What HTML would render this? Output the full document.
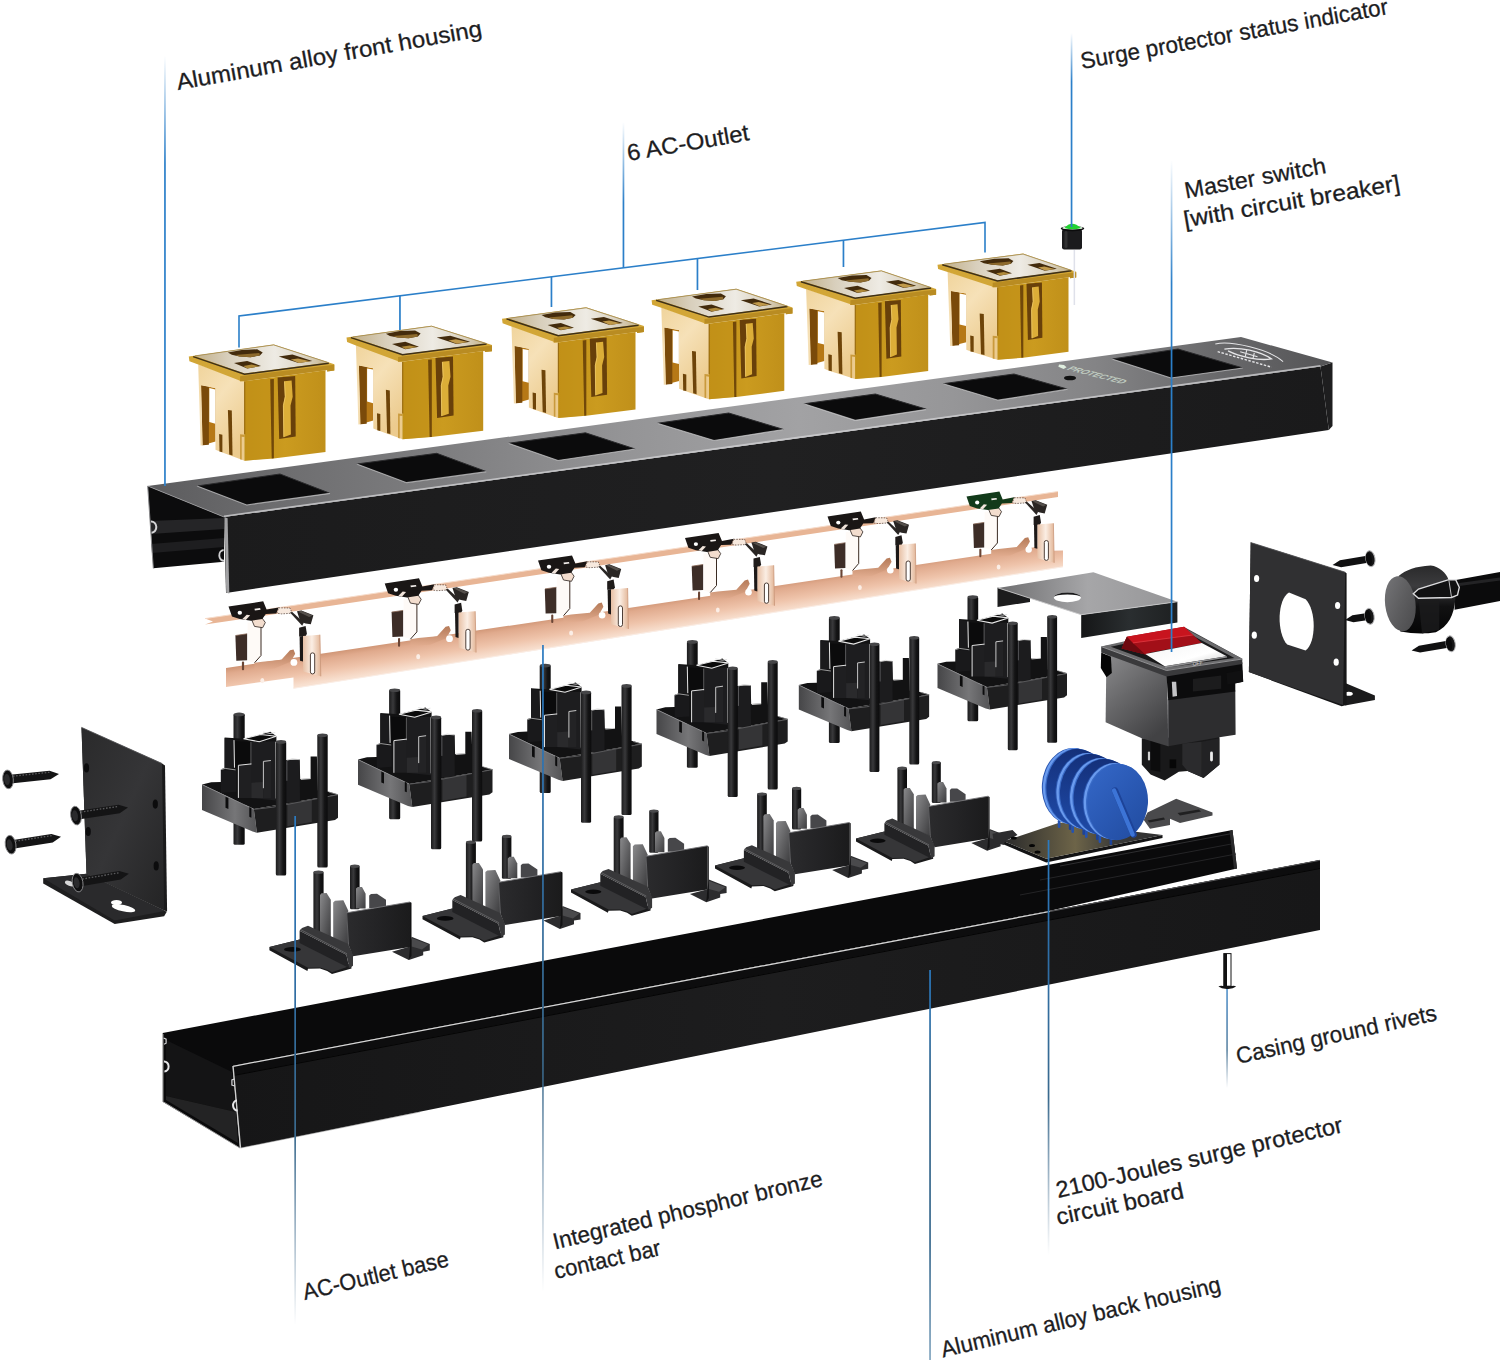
<!DOCTYPE html>
<html><head><meta charset="utf-8"><title>Power strip exploded view</title>
<style>html,body{margin:0;padding:0;background:#fff}svg{display:block}
text{font-family:"Liberation Sans",sans-serif;fill:#1d1d1f}</style></head>
<body><svg width="1500" height="1360" viewBox="0 0 1500 1360">
<defs>
<linearGradient id="gTop" gradientUnits="userSpaceOnUse" x1="150" y1="0" x2="1330" y2="0">
<stop offset="0" stop-color="#5c5c5e"/><stop offset="0.1" stop-color="#6c6c6e"/><stop offset="0.25" stop-color="#7e7e80"/><stop offset="0.4" stop-color="#949496"/><stop offset="0.55" stop-color="#a2a2a4"/><stop offset="0.68" stop-color="#969698"/><stop offset="0.8" stop-color="#848486"/><stop offset="0.9" stop-color="#6a6a6c"/><stop offset="1" stop-color="#555557"/>
</linearGradient>
<linearGradient id="gFront" gradientUnits="userSpaceOnUse" x1="220" y1="0" x2="1330" y2="0">
<stop offset="0" stop-color="#1b1b1c"/><stop offset="0.5" stop-color="#202021"/><stop offset="1" stop-color="#1a1a1b"/>
</linearGradient>
<linearGradient id="gBackFront" gradientUnits="userSpaceOnUse" x1="230" y1="0" x2="1320" y2="0">
<stop offset="0" stop-color="#161617"/><stop offset="0.5" stop-color="#1d1d1e"/><stop offset="1" stop-color="#171718"/>
</linearGradient>
<linearGradient id="gPlate" x1="0" y1="0" x2="1" y2="0">
<stop offset="0" stop-color="#c2b08a"/><stop offset="0.25" stop-color="#d8cfbc"/><stop offset="0.6" stop-color="#eeebe4"/><stop offset="0.85" stop-color="#d9d0bc"/><stop offset="1" stop-color="#c4b288"/>
</linearGradient>
<linearGradient id="gCream" x1="0" y1="0" x2="0.6" y2="1">
<stop offset="0" stop-color="#f0d49c"/><stop offset="0.45" stop-color="#f6e1b8"/><stop offset="1" stop-color="#eccb8e"/>
</linearGradient>
<linearGradient id="gGold" x1="0" y1="0" x2="1" y2="0">
<stop offset="0" stop-color="#bf8f18"/><stop offset="0.5" stop-color="#cb9b1f"/><stop offset="1" stop-color="#c0901a"/>
</linearGradient>
<linearGradient id="gCopper" gradientUnits="userSpaceOnUse" x1="226" y1="666" x2="230.6" y2="696">
<stop offset="0" stop-color="#c98d6c"/><stop offset="0.25" stop-color="#e0aa8d"/><stop offset="0.65" stop-color="#efc4ab"/><stop offset="1" stop-color="#f8e0d0"/>
</linearGradient>
<linearGradient id="gArm" x1="0" y1="0" x2="0" y2="1">
<stop offset="0" stop-color="#b57a58"/><stop offset="1" stop-color="#e2ad90"/>
</linearGradient>
<linearGradient id="gTab" x1="0" y1="0" x2="1" y2="0">
<stop offset="0" stop-color="#e7c0a5"/><stop offset="0.5" stop-color="#fbeee4"/><stop offset="1" stop-color="#e2b596"/>
</linearGradient>
<linearGradient id="gPin" x1="0" y1="0" x2="1" y2="0">
<stop offset="0" stop-color="#1c1c1d"/><stop offset="0.35" stop-color="#39393b"/><stop offset="0.7" stop-color="#141415"/><stop offset="1" stop-color="#0c0c0d"/>
</linearGradient>
<linearGradient id="gDisc" x1="0" y1="0" x2="1" y2="1">
<stop offset="0" stop-color="#3568c8"/><stop offset="0.5" stop-color="#2a59b4"/><stop offset="1" stop-color="#214b9e"/>
</linearGradient>
<linearGradient id="gDiscBack" x1="0" y1="0" x2="0" y2="1">
<stop offset="0" stop-color="#14307a"/><stop offset="0.6" stop-color="#1a3f94"/><stop offset="1" stop-color="#1f4aa6"/>
</linearGradient>
<linearGradient id="gBracket" x1="0" y1="0" x2="1" y2="0">
<stop offset="0" stop-color="#6e6e70"/><stop offset="0.5" stop-color="#a6a6a8"/><stop offset="1" stop-color="#969698"/>
</linearGradient>
<linearGradient id="gRocker" x1="0" y1="0" x2="1" y2="1">
<stop offset="0" stop-color="#f4f4f4"/><stop offset="0.6" stop-color="#ffffff"/><stop offset="1" stop-color="#c8c8c8"/>
</linearGradient>
<linearGradient id="gBoard" x1="0" y1="0" x2="1" y2="0">
<stop offset="0" stop-color="#2a2a2b"/><stop offset="0.45" stop-color="#6d6448"/><stop offset="0.7" stop-color="#3a3a38"/><stop offset="1" stop-color="#303031"/>
</linearGradient>
<linearGradient id="gEndPlate" x1="0" y1="0" x2="1" y2="1">
<stop offset="0" stop-color="#2a2a2b"/><stop offset="0.5" stop-color="#353537"/><stop offset="1" stop-color="#242425"/>
</linearGradient>
<linearGradient id="gLineUp" x1="0" y1="0" x2="0" y2="1">
<stop offset="0" stop-color="#2b7fc9" stop-opacity="0"/><stop offset="0.25" stop-color="#2b7fc9" stop-opacity="1"/><stop offset="1" stop-color="#2b7fc9"/>
</linearGradient>
<linearGradient id="gLineDown" x1="0" y1="0" x2="0" y2="1">
<stop offset="0" stop-color="#2b7ac0"/><stop offset="0.3" stop-color="#2f6ea6" stop-opacity="1"/><stop offset="0.62" stop-color="#3a6a8e" stop-opacity="1"/><stop offset="1" stop-color="#4a7090" stop-opacity="0"/>
</linearGradient>
<linearGradient id="gGland" x1="0" y1="0" x2="0" y2="1">
<stop offset="0" stop-color="#2a2a2b"/><stop offset="0.3" stop-color="#3c3c3e"/><stop offset="0.6" stop-color="#111112"/><stop offset="1" stop-color="#050505"/>
</linearGradient>
<linearGradient id="gSwL" x1="0" y1="0" x2="0.6" y2="1">
<stop offset="0" stop-color="#8c8c8e"/><stop offset="0.5" stop-color="#666668"/><stop offset="1" stop-color="#424244"/>
</linearGradient>
<linearGradient id="gTrayL" x1="0" y1="0" x2="1" y2="0">
<stop offset="0" stop-color="#464648"/><stop offset="0.6" stop-color="#767678"/><stop offset="1" stop-color="#545456"/>
</linearGradient>
<linearGradient id="gTabG" x1="0" y1="0" x2="1" y2="1">
<stop offset="0" stop-color="#8a8a8c"/><stop offset="0.5" stop-color="#626264"/><stop offset="1" stop-color="#3c3c3e"/>
</linearGradient>
<linearGradient id="gLBWall" x1="0" y1="0" x2="1" y2="0">
<stop offset="0" stop-color="#2b2b2d"/><stop offset="0.5" stop-color="#232325"/><stop offset="1" stop-color="#1b1b1c"/>
</linearGradient>
<linearGradient id="gFace" x1="0" y1="0" x2="1" y2="1">
<stop offset="0" stop-color="#77777a"/><stop offset="0.5" stop-color="#5e5e60"/><stop offset="1" stop-color="#48484a"/>
</linearGradient>
<linearGradient id="gLineUp2" x1="0" y1="0" x2="0" y2="1">
<stop offset="0" stop-color="#2b7fc9" stop-opacity="0"/><stop offset="0.55" stop-color="#2b7fc9" stop-opacity="1"/><stop offset="1" stop-color="#2b7fc9"/>
</linearGradient>
<linearGradient id="gBrFront" x1="0" y1="0" x2="1" y2="0">
<stop offset="0" stop-color="#151617"/><stop offset="0.5" stop-color="#2a2e30"/><stop offset="1" stop-color="#1e2021"/>
</linearGradient>
<linearGradient id="gLineDown3" x1="0" y1="0" x2="0" y2="1">
<stop offset="0" stop-color="#2b7ac0"/><stop offset="0.3" stop-color="#34658a"/><stop offset="0.7" stop-color="#3a6a8e"/><stop offset="1" stop-color="#5a88aa" stop-opacity="0.75"/>
</linearGradient>
</defs>

<rect width="1500" height="1360" fill="#ffffff"/>
<g id="back-housing">
<polygon points="162.7,1033.0 1232.5,830.0 1237.0,868.5 1050.0,910.8 232.7,1066.0 240.0,1148.0 162.7,1101.7" fill="#0a0a0b" />
<polygon points="166.0,1040.0 232.0,1072.0 236.0,1112.0 166.0,1096.0" fill="#141415" />
<polygon points="166.0,1096.0 236.0,1112.0 238.0,1143.0 166.0,1100.0" fill="#232324" />
<polyline points="1060.0,866.0 1232.0,833.5" fill="none" stroke="#2e2e30" stroke-width="1" />
<polyline points="1040.0,880.0 1234.0,843.5" fill="none" stroke="#242426" stroke-width="1" />
<polyline points="1020.0,895.0 1236.0,854.0" fill="none" stroke="#242426" stroke-width="1" />
<polygon points="1232.5,830.0 1237.0,868.5 1234.0,869.0 1229.5,831.0" fill="#2a2a2c" />
<polygon points="232.7,1066.0 1320.0,860.0 1320.0,930.0 240.0,1148.0" fill="url(#gBackFront)" />
<polygon points="232.7,1066.0 1320.0,860.0 1320.0,868.0 233.6,1075.0" fill="#0d0d0e" />
<polyline points="233.6,1075.5 1320.0,868.5" fill="none" stroke="#050505" stroke-width="1" />
<polyline points="233.0,1066.3 1050.0,911.5" fill="none" stroke="#d8d8d8" stroke-width="1.2" />
<polyline points="1050.0,911.5 1320.0,860.3" fill="none" stroke="#5a5a5c" stroke-width="1" />
<polyline points="233.0,1066.0 240.5,1148.0" fill="none" stroke="#cfcfcf" stroke-width="1.4" />
<polyline points="240.5,1148.0 420.0,1112.0" fill="none" stroke="#8a8a8a" stroke-width="0.8" opacity="0.6"/>
<path d="M164 1061.5 a4.4 5 0 1 1 0.4 10" fill="none" stroke="#e6e6e8" stroke-width="2"/>
<path d="M163.6 1038 l2.5 1.2 l0 4 l-2 1" fill="none" stroke="#d8d8da" stroke-width="1.2"/>
<path d="M237 1100.5 a4.2 5 0 1 0 0.6 10" fill="none" stroke="#e6e6e8" stroke-width="2"/>
<path d="M234.3 1079 l-2.4 1 l0 5 l2.8 1" fill="none" stroke="#d8d8da" stroke-width="1.2"/>
<polyline points="162.9,1034.0 162.9,1101.0" fill="none" stroke="#bdbdbd" stroke-width="1" />
<polyline points="162.9,1101.5 240.0,1148.0" fill="none" stroke="#9a9a9a" stroke-width="0.9" />
</g>
<g>
<rect x="313.4" y="871.4" width="10.2" height="61.8" fill="url(#gPin)" rx="1.5"/>
<ellipse cx="318.5" cy="872.2" rx="5.1" ry="1.7" fill="#4a4a4c" />
<rect x="350.0" y="865.4" width="9.6" height="43.8" fill="url(#gPin)" rx="1.5"/>
<ellipse cx="354.8" cy="866.2" rx="4.8" ry="1.7" fill="#4a4a4c" />
<polygon points="356.0,908.6 356.0,888.6 357.8,886.9 362.0,886.9 365.6,893.8 365.6,908.6" fill="url(#gTabG)" />
<polygon points="369.2,908.0 369.2,895.5 371.0,894.0 377.0,893.7 386.0,899.8 386.0,908.0" fill="#47474a" />
<polygon points="269.4,947.0 299.6,939.4 351.2,965.6 351.5,968.6 332.0,974.0 327.2,971.0 320.0,968.6 308.0,968.8 307.4,971.0 269.4,950.2" fill="#1a1a1b" />
<polygon points="269.4,947.0 299.6,939.4 351.2,965.6 332.0,972.2 327.2,969.8 320.0,967.5 308.0,967.8" fill="#363638" />
<ellipse cx="292.4" cy="949.4" rx="8.4" ry="2.3" fill="#0a0a0b" />
<polygon points="320.0,932.6 320.0,895.0 321.5,893.2 326.6,893.1 330.8,899.8 330.8,938.0" fill="url(#gTabG)" />
<polygon points="333.2,938.0 333.2,902.5 335.0,900.7 343.4,900.3 348.2,910.6 348.2,945.0" fill="url(#gTabG)" />
<polygon points="392.0,951.7 410.0,946.6 411.5,936.8 429.8,944.0 429.8,950.5 423.2,951.7 423.2,955.3 408.8,960.1" fill="#2c2c2e" />
<polygon points="411.5,938.0 428.6,944.6 422.0,949.4 411.5,946.4" fill="#4a4a4c" />
<polygon points="299.6,930.8 346.4,954.8 349.4,968.2 299.6,943.0" fill="#222224" />
<polygon points="299.6,930.8 302.0,927.9 308.0,925.8 348.2,944.0 353.0,954.8 353.0,965.8 349.4,968.2 346.4,954.8" fill="#38383a" />
<polyline points="300.6,929.6 347.0,953.8" fill="none" stroke="#5e5e60" stroke-width="1" />
<polygon points="346.4,912.8 410.0,902.0 410.0,946.9 353.0,956.2 348.2,944.0" fill="url(#gLBWall)" />
<polyline points="346.4,912.8 410.0,902.0" fill="none" stroke="#77777a" stroke-width="0.9" />
<polyline points="346.7,913.0 348.5,944.0" fill="none" stroke="#6a6a6c" stroke-width="0.8" />
<polygon points="410.0,902.0 411.5,902.8 411.5,956.0 408.8,959.8 410.0,946.9" fill="#121213" />
</g>
<g>
<rect x="465.9" y="841.5" width="10.0" height="60.9" fill="url(#gPin)" rx="1.5"/>
<ellipse cx="470.9" cy="842.3" rx="5.0" ry="1.7" fill="#4a4a4c" />
<rect x="501.9" y="835.6" width="9.5" height="43.1" fill="url(#gPin)" rx="1.5"/>
<ellipse cx="506.7" cy="836.4" rx="4.7" ry="1.7" fill="#4a4a4c" />
<polygon points="507.8,878.2 507.8,858.4 509.6,856.8 513.8,856.8 517.3,863.6 517.3,878.2" fill="url(#gTabG)" />
<polygon points="520.8,877.6 520.8,865.3 522.6,863.8 528.5,863.5 537.4,869.5 537.4,877.6" fill="#47474a" />
<polygon points="422.5,916.0 452.3,908.6 503.1,934.3 503.4,937.3 484.2,942.6 479.5,939.6 472.4,937.3 460.6,937.5 460.0,939.6 422.5,919.2" fill="#1a1a1b" />
<polygon points="422.5,916.0 452.3,908.6 503.1,934.3 484.2,940.8 479.5,938.5 472.4,936.2 460.6,936.4" fill="#363638" />
<ellipse cx="445.2" cy="918.4" rx="8.3" ry="2.3" fill="#0a0a0b" />
<polygon points="472.4,901.8 472.4,864.8 473.8,863.0 478.9,862.9 483.0,869.5 483.0,907.1" fill="url(#gTabG)" />
<polygon points="485.4,907.1 485.4,872.1 487.2,870.4 495.4,870.0 500.2,880.2 500.2,914.0" fill="url(#gTabG)" />
<polygon points="543.3,920.6 561.0,915.6 562.5,906.0 580.5,913.0 580.5,919.4 574.0,920.6 574.0,924.2 559.9,928.9" fill="#2c2c2e" />
<polygon points="562.5,907.1 579.4,913.6 572.9,918.4 562.5,915.4" fill="#4a4a4c" />
<polygon points="452.3,900.0 498.4,923.7 501.3,936.9 452.3,912.1" fill="#222224" />
<polygon points="452.3,900.0 454.7,897.2 460.6,895.1 500.2,913.0 504.9,923.7 504.9,934.6 501.3,936.9 498.4,923.7" fill="#38383a" />
<polyline points="453.2,898.9 499.0,922.7" fill="none" stroke="#5e5e60" stroke-width="1" />
<polygon points="498.4,882.3 561.0,871.7 561.0,915.9 504.9,925.1 500.2,913.0" fill="url(#gLBWall)" />
<polyline points="498.4,882.3 561.0,871.7" fill="none" stroke="#77777a" stroke-width="0.9" />
<polyline points="498.6,882.5 500.4,913.0" fill="none" stroke="#6a6a6c" stroke-width="0.8" />
<polygon points="561.0,871.7 562.5,872.5 562.5,924.9 559.9,928.6 561.0,915.9" fill="#121213" />
</g>
<g>
<rect x="613.7" y="816.2" width="9.9" height="59.9" fill="url(#gPin)" rx="1.5"/>
<ellipse cx="618.7" cy="817.0" rx="4.9" ry="1.7" fill="#4a4a4c" />
<rect x="649.2" y="810.3" width="9.3" height="42.5" fill="url(#gPin)" rx="1.5"/>
<ellipse cx="653.9" cy="811.1" rx="4.7" ry="1.7" fill="#4a4a4c" />
<polygon points="655.0,852.3 655.0,832.8 656.8,831.2 660.9,831.2 664.4,837.9 664.4,852.3" fill="url(#gTabG)" />
<polygon points="667.8,851.7 667.8,839.6 669.6,838.0 675.4,837.8 684.1,843.8 684.1,851.7" fill="#47474a" />
<polygon points="571.0,889.5 600.3,882.2 650.4,907.5 650.6,910.5 631.8,915.7 627.1,912.8 620.1,910.5 608.5,910.7 607.9,912.8 571.0,892.6" fill="#1a1a1b" />
<polygon points="571.0,889.5 600.3,882.2 650.4,907.5 631.8,913.9 627.1,911.6 620.1,909.4 608.5,909.6" fill="#363638" />
<ellipse cx="593.3" cy="891.8" rx="8.1" ry="2.2" fill="#0a0a0b" />
<polygon points="620.1,875.5 620.1,839.1 621.5,837.4 626.5,837.2 630.6,843.8 630.6,880.8" fill="url(#gTabG)" />
<polygon points="632.9,880.8 632.9,846.3 634.7,844.6 642.8,844.2 647.5,854.2 647.5,887.5" fill="url(#gTabG)" />
<polygon points="690.0,894.0 707.4,889.2 708.8,879.6 726.6,886.6 726.6,892.9 720.2,894.0 720.2,897.5 706.3,902.2" fill="#2c2c2e" />
<polygon points="708.8,880.8 725.5,887.2 719.1,891.8 708.8,888.9" fill="#4a4a4c" />
<polygon points="600.3,873.8 645.7,897.1 648.6,910.1 600.3,885.7" fill="#222224" />
<polygon points="600.3,873.8 602.7,871.0 608.5,868.9 647.5,886.6 652.1,897.1 652.1,907.8 648.6,910.1 645.7,897.1" fill="#38383a" />
<polyline points="601.3,872.6 646.3,896.1" fill="none" stroke="#5e5e60" stroke-width="1" />
<polygon points="645.7,856.3 707.4,845.8 707.4,889.4 652.1,898.5 647.5,886.6" fill="url(#gLBWall)" />
<polyline points="645.7,856.3 707.4,845.8" fill="none" stroke="#77777a" stroke-width="0.9" />
<polyline points="646.0,856.6 647.7,886.6" fill="none" stroke="#6a6a6c" stroke-width="0.8" />
<polygon points="707.4,845.8 708.8,846.7 708.8,898.2 706.3,902.0 707.4,889.4" fill="#121213" />
</g>
<g>
<rect x="757.1" y="793.3" width="9.7" height="59.0" fill="url(#gPin)" rx="1.5"/>
<ellipse cx="761.9" cy="794.1" rx="4.9" ry="1.7" fill="#4a4a4c" />
<rect x="792.0" y="787.6" width="9.2" height="41.8" fill="url(#gPin)" rx="1.5"/>
<ellipse cx="796.6" cy="788.4" rx="4.6" ry="1.7" fill="#4a4a4c" />
<polygon points="797.7,828.8 797.7,809.7 799.5,808.1 803.5,808.1 806.9,814.7 806.9,828.8" fill="url(#gTabG)" />
<polygon points="810.4,828.3 810.4,816.3 812.1,814.8 817.8,814.6 826.4,820.5 826.4,828.3" fill="#47474a" />
<polygon points="715.0,865.5 743.9,858.3 793.2,883.3 793.4,886.1 774.8,891.3 770.2,888.4 763.4,886.1 751.9,886.4 751.3,888.4 715.0,868.6" fill="#1a1a1b" />
<polygon points="715.0,865.5 743.9,858.3 793.2,883.3 774.8,889.6 770.2,887.3 763.4,885.1 751.9,885.3" fill="#363638" />
<ellipse cx="737.0" cy="867.8" rx="8.0" ry="2.2" fill="#0a0a0b" />
<polygon points="763.4,851.7 763.4,815.9 764.7,814.2 769.7,814.0 773.7,820.5 773.7,856.9" fill="url(#gTabG)" />
<polygon points="776.0,856.9 776.0,823.0 777.7,821.3 785.7,820.9 790.3,830.8 790.3,863.6" fill="url(#gTabG)" />
<polygon points="832.1,870.0 849.3,865.2 850.7,855.8 868.2,862.6 868.2,868.8 861.9,870.0 861.9,873.4 848.2,878.0" fill="#2c2c2e" />
<polygon points="850.7,856.9 867.1,863.2 860.8,867.8 850.7,864.9" fill="#4a4a4c" />
<polygon points="743.9,850.0 788.6,872.9 791.4,885.8 743.9,861.7" fill="#222224" />
<polygon points="743.9,850.0 746.2,847.3 751.9,845.2 790.3,862.6 794.9,872.9 794.9,883.5 791.4,885.8 788.6,872.9" fill="#38383a" />
<polyline points="744.8,848.9 789.1,872.0" fill="none" stroke="#5e5e60" stroke-width="1" />
<polygon points="788.6,832.8 849.3,822.5 849.3,865.4 794.9,874.3 790.3,862.6" fill="url(#gLBWall)" />
<polyline points="788.6,832.8 849.3,822.5" fill="none" stroke="#77777a" stroke-width="0.9" />
<polyline points="788.8,833.1 790.5,862.6" fill="none" stroke="#6a6a6c" stroke-width="0.8" />
<polygon points="849.3,822.5 850.7,823.3 850.7,874.1 848.2,877.8 849.3,865.4" fill="#121213" />
</g>
<g>
<rect x="897.4" y="767.4" width="9.6" height="58.1" fill="url(#gPin)" rx="1.5"/>
<ellipse cx="902.2" cy="768.2" rx="4.8" ry="1.7" fill="#4a4a4c" />
<rect x="931.8" y="761.8" width="9.0" height="41.2" fill="url(#gPin)" rx="1.5"/>
<ellipse cx="936.3" cy="762.6" rx="4.5" ry="1.7" fill="#4a4a4c" />
<polygon points="937.4,802.4 937.4,783.6 939.1,782.0 943.1,782.0 946.5,788.5 946.5,802.4" fill="url(#gTabG)" />
<polygon points="949.9,801.8 949.9,790.1 951.5,788.6 957.2,788.4 965.6,794.2 965.6,801.8" fill="#47474a" />
<polygon points="856.0,838.5 884.4,831.4 932.9,856.0 933.2,858.8 914.9,863.9 910.4,861.1 903.6,858.8 892.3,859.0 891.8,861.1 856.0,841.5" fill="#1a1a1b" />
<polygon points="856.0,838.5 884.4,831.4 932.9,856.0 914.9,862.2 910.4,859.9 903.6,857.8 892.3,858.0" fill="#363638" />
<ellipse cx="877.7" cy="840.8" rx="7.9" ry="2.2" fill="#0a0a0b" />
<polygon points="903.6,825.0 903.6,789.7 905.0,788.0 909.8,787.9 913.8,794.2 913.8,830.0" fill="url(#gTabG)" />
<polygon points="916.0,830.0 916.0,796.6 917.7,795.0 925.6,794.6 930.1,804.3 930.1,836.6" fill="url(#gTabG)" />
<polygon points="971.3,842.9 988.2,838.2 989.6,828.9 1006.8,835.7 1006.8,841.8 1000.6,842.9 1000.6,846.3 987.1,850.8" fill="#2c2c2e" />
<polygon points="989.6,830.0 1005.7,836.2 999.5,840.8 989.6,837.9" fill="#4a4a4c" />
<polygon points="884.4,823.3 928.4,845.8 931.2,858.5 884.4,834.8" fill="#222224" />
<polygon points="884.4,823.3 886.7,820.6 892.3,818.5 930.1,835.7 934.6,845.8 934.6,856.2 931.2,858.5 928.4,845.8" fill="#38383a" />
<polyline points="885.3,822.1 929.0,844.9" fill="none" stroke="#5e5e60" stroke-width="1" />
<polygon points="928.4,806.4 988.2,796.2 988.2,838.4 934.6,847.2 930.1,835.7" fill="url(#gLBWall)" />
<polyline points="928.4,806.4 988.2,796.2" fill="none" stroke="#77777a" stroke-width="0.9" />
<polyline points="928.6,806.6 930.3,835.7" fill="none" stroke="#6a6a6c" stroke-width="0.8" />
<polygon points="988.2,796.2 989.6,797.0 989.6,847.0 987.1,850.6 988.2,838.4" fill="#121213" />
</g>
<g>
<rect x="233.5" y="713.7" width="11.2" height="131.1" fill="url(#gPin)" rx="1.5"/>
<ellipse cx="239.1" cy="714.4" rx="5.6" ry="1.8" fill="#454547" />
<polygon points="202.0,784.5 211.2,782.3 220.9,782.1 220.9,769.2 224.6,768.0 224.6,737.5 243.5,738.8 260.6,734.5 270.3,731.8 276.4,736.3 276.4,761.3 286.2,760.1 299.6,759.5 300.2,779.0 310.6,778.4 310.6,756.4 316.9,756.4 317.9,790.6 328.9,791.8 338.0,794.5 253.8,809.1" fill="#121213" />
<polygon points="250.8,741.8 275.8,741.2 275.8,800.4 250.8,797.9" fill="#1d1d1f" />
<polygon points="234.9,741.2 250.8,741.8 250.8,766.2 234.9,767.4" fill="#0b0b0c" />
<polygon points="224.6,738.1 234.3,740.0 234.3,768.0 224.6,768.0" fill="#1a1a1c" />
<polygon points="238.2,765.2 251.4,763.8 251.4,797.9 238.2,797.9" fill="#1f1f21" />
<polygon points="263.2,761.3 270.9,760.3 270.9,797.9 263.2,797.9" fill="#232325" />
<polygon points="220.9,769.9 236.2,770.5 236.2,791.8 220.9,793.0" fill="#19191b" />
<polygon points="286.4,760.3 299.6,759.7 300.0,802.8 286.4,802.8" fill="#1c1c1e" />
<polygon points="251.4,782.7 263.0,782.1 263.0,797.9 251.4,797.9" fill="#2a2a2c" />
<polygon points="243.5,738.8 260.6,734.5 276.4,736.3 259.3,741.8" fill="#0a0a0a" stroke="#e8e8e8" stroke-width="1.1"/>
<polyline points="263.0,732.0 270.3,733.5 275.2,732.6" fill="none" stroke="#e0e0e0" stroke-width="0.9" />
<polyline points="234.0,740.1 234.5,767.7" fill="none" stroke="#e6e6e6" stroke-width="1.0" />
<polyline points="275.8,741.8 276.1,798.5" fill="none" stroke="#dcdcdc" stroke-width="1.0" />
<polyline points="250.9,742.0 250.9,765.0" fill="none" stroke="#6a6a6c" stroke-width="0.8" />
<polyline points="238.4,797.9 238.4,765.3 251.4,763.9" fill="none" stroke="#e0e0e0" stroke-width="1.0" />
<polyline points="263.4,788.2 263.4,761.4 270.9,760.5" fill="none" stroke="#d8d8d8" stroke-width="0.9" />
<polyline points="286.8,761.1 286.8,780.8" fill="none" stroke="#77777a" stroke-width="0.8" />
<polyline points="286.7,760.3 292.3,758.9 299.6,759.7" fill="none" stroke="#c8c8c8" stroke-width="0.8" />
<polyline points="221.0,769.6 225.2,768.4 235.6,769.9" fill="none" stroke="#bcbcbc" stroke-width="0.8" />
<polyline points="300.8,779.4 310.6,778.6" fill="none" stroke="#e4e4e4" stroke-width="0.9" />
<polygon points="202.0,784.5 253.8,809.1 256.9,832.7 252.6,831.5 202.0,810.1" fill="url(#gTrayL)" />
<polyline points="202.2,784.7 253.8,809.3" fill="none" stroke="#8e8e90" stroke-width="0.8" />
<polygon points="225.5,796.7 228.4,797.9 228.4,808.9 225.5,807.7" fill="#0c0c0d" />
<polygon points="249.3,807.1 251.4,808.0 251.4,817.7 249.3,816.8" fill="#0c0c0d" />
<polygon points="253.8,809.1 338.0,794.5 338.0,817.7 335.0,819.9 256.9,832.7" fill="#1e1e1f" />
<polygon points="287.4,804.0 311.8,799.8 311.8,822.1 287.4,826.2" fill="#343436" />
<polyline points="254.1,809.4 272.8,807.2 338.0,794.7" fill="none" stroke="#5e5e60" stroke-width="0.9" />
<polyline points="328.9,792.1 338.0,794.7" fill="none" stroke="#8a8a8c" stroke-width="0.8" />
<rect x="275.8" y="741.2" width="10.4" height="134.2" fill="url(#gPin)" rx="1.5"/>
<ellipse cx="281.0" cy="741.9" rx="5.2" ry="1.8" fill="#454547" />
<rect x="317.3" y="734.5" width="10.4" height="133.0" fill="url(#gPin)" rx="1.5"/>
<ellipse cx="322.5" cy="735.2" rx="5.2" ry="1.8" fill="#454547" />
</g>
<g>
<rect x="389.1" y="689.6" width="11.1" height="129.6" fill="url(#gPin)" rx="1.5"/>
<ellipse cx="394.7" cy="690.3" rx="5.5" ry="1.8" fill="#454547" />
<polygon points="358.0,759.5 367.0,757.3 376.7,757.1 376.7,744.4 380.3,743.2 380.3,713.1 399.0,714.3 415.9,710.1 425.5,707.4 431.6,711.9 431.6,736.6 441.2,735.4 454.5,734.8 455.1,754.1 465.3,753.5 465.3,731.8 471.6,731.8 472.6,765.5 483.4,766.7 492.5,769.4 409.2,783.9" fill="#121213" />
<polygon points="406.2,717.3 431.0,716.7 431.0,775.2 406.2,772.8" fill="#1d1d1f" />
<polygon points="390.6,716.7 406.2,717.3 406.2,741.4 390.6,742.6" fill="#0b0b0c" />
<polygon points="380.3,713.7 390.0,715.5 390.0,743.2 380.3,743.2" fill="#1a1a1c" />
<polygon points="393.8,740.4 406.8,739.0 406.8,772.8 393.8,772.8" fill="#1f1f21" />
<polygon points="418.5,736.6 426.1,735.6 426.1,772.8 418.5,772.8" fill="#232325" />
<polygon points="376.7,745.0 391.8,745.6 391.8,766.7 376.7,767.9" fill="#19191b" />
<polygon points="441.4,735.6 454.5,735.0 454.8,777.6 441.4,777.6" fill="#1c1c1e" />
<polygon points="406.8,757.7 418.3,757.1 418.3,772.8 406.8,772.8" fill="#2a2a2c" />
<polygon points="399.0,714.3 415.9,710.1 431.6,711.9 414.7,717.3" fill="#0a0a0a" stroke="#e8e8e8" stroke-width="1.1"/>
<polyline points="418.3,707.6 425.5,709.1 430.4,708.2" fill="none" stroke="#e0e0e0" stroke-width="0.9" />
<polyline points="389.6,715.6 390.1,742.9" fill="none" stroke="#e6e6e6" stroke-width="1.0" />
<polyline points="431.0,717.3 431.2,773.4" fill="none" stroke="#dcdcdc" stroke-width="1.0" />
<polyline points="406.4,717.5 406.4,740.2" fill="none" stroke="#6a6a6c" stroke-width="0.8" />
<polyline points="393.9,772.8 393.9,740.6 406.8,739.1" fill="none" stroke="#e0e0e0" stroke-width="1.0" />
<polyline points="418.7,763.1 418.7,736.7 426.1,735.7" fill="none" stroke="#d8d8d8" stroke-width="0.9" />
<polyline points="441.8,736.3 441.8,755.9" fill="none" stroke="#77777a" stroke-width="0.8" />
<polyline points="441.7,735.6 447.2,734.2 454.5,735.0" fill="none" stroke="#c8c8c8" stroke-width="0.8" />
<polyline points="376.8,744.8 380.9,743.6 391.2,745.0" fill="none" stroke="#bcbcbc" stroke-width="0.8" />
<polyline points="455.7,754.4 465.3,753.7" fill="none" stroke="#e4e4e4" stroke-width="0.9" />
<polygon points="358.0,759.5 409.2,783.9 412.3,807.1 408.0,805.9 358.0,784.8" fill="url(#gTrayL)" />
<polyline points="358.2,759.7 409.2,784.0" fill="none" stroke="#8e8e90" stroke-width="0.8" />
<polygon points="381.3,771.6 384.0,772.8 384.0,783.6 381.3,782.4" fill="#0c0c0d" />
<polygon points="404.8,781.8 406.8,782.8 406.8,792.3 404.8,791.5" fill="#0c0c0d" />
<polygon points="409.2,783.9 492.5,769.4 492.5,792.3 489.4,794.5 412.3,807.1" fill="#1e1e1f" />
<polygon points="442.4,778.8 466.5,774.6 466.5,796.6 442.4,800.7" fill="#343436" />
<polyline points="409.5,784.1 427.9,781.9 492.5,769.6" fill="none" stroke="#5e5e60" stroke-width="0.9" />
<polyline points="483.4,767.0 492.5,769.6" fill="none" stroke="#8a8a8c" stroke-width="0.8" />
<rect x="431.0" y="716.7" width="10.2" height="132.6" fill="url(#gPin)" rx="1.5"/>
<ellipse cx="436.1" cy="717.4" rx="5.1" ry="1.8" fill="#454547" />
<rect x="472.0" y="710.1" width="10.2" height="131.4" fill="url(#gPin)" rx="1.5"/>
<ellipse cx="477.1" cy="710.8" rx="5.1" ry="1.8" fill="#454547" />
</g>
<g>
<rect x="539.7" y="664.9" width="11.0" height="128.0" fill="url(#gPin)" rx="1.5"/>
<ellipse cx="545.2" cy="665.6" rx="5.5" ry="1.8" fill="#454547" />
<polygon points="509.0,734.0 517.9,731.9 527.5,731.6 527.5,719.1 531.0,717.9 531.0,688.2 549.5,689.4 566.1,685.2 575.7,682.6 581.6,687.0 581.6,711.4 591.2,710.2 604.2,709.6 604.8,728.6 615.0,728.0 615.0,706.6 621.2,706.6 622.1,740.0 632.8,741.1 641.8,743.8 559.6,758.0" fill="#121213" />
<polygon points="556.6,692.3 581.0,691.7 581.0,749.5 556.6,747.1" fill="#1d1d1f" />
<polygon points="541.1,691.7 556.6,692.3 556.6,716.1 541.1,717.3" fill="#0b0b0c" />
<polygon points="531.0,688.8 540.6,690.5 540.6,717.9 531.0,717.9" fill="#1a1a1c" />
<polygon points="544.4,715.2 557.2,713.8 557.2,747.1 544.4,747.1" fill="#1f1f21" />
<polygon points="568.8,711.4 576.3,710.4 576.3,747.1 568.8,747.1" fill="#232325" />
<polygon points="527.5,719.7 542.3,720.3 542.3,741.1 527.5,742.3" fill="#19191b" />
<polygon points="591.4,710.4 604.2,709.8 604.6,751.9 591.4,751.9" fill="#1c1c1e" />
<polygon points="557.2,732.2 568.5,731.6 568.5,747.1 557.2,747.1" fill="#2a2a2c" />
<polygon points="549.5,689.4 566.1,685.2 581.6,687.0 565.0,692.3" fill="#0a0a0a" stroke="#e8e8e8" stroke-width="1.1"/>
<polyline points="568.5,682.8 575.7,684.2 580.4,683.4" fill="none" stroke="#e0e0e0" stroke-width="0.9" />
<polyline points="540.2,690.7 540.7,717.6" fill="none" stroke="#e6e6e6" stroke-width="1.0" />
<polyline points="581.0,692.3 581.3,747.7" fill="none" stroke="#dcdcdc" stroke-width="1.0" />
<polyline points="556.7,692.6 556.7,715.0" fill="none" stroke="#6a6a6c" stroke-width="0.8" />
<polyline points="544.5,747.1 544.5,715.3 557.2,713.9" fill="none" stroke="#e0e0e0" stroke-width="1.0" />
<polyline points="568.9,737.6 568.9,711.5 576.3,710.5" fill="none" stroke="#d8d8d8" stroke-width="0.9" />
<polyline points="591.7,711.1 591.7,730.4" fill="none" stroke="#77777a" stroke-width="0.8" />
<polyline points="591.6,710.4 597.1,709.0 604.2,709.8" fill="none" stroke="#c8c8c8" stroke-width="0.8" />
<polyline points="527.6,719.5 531.6,718.3 541.7,719.7" fill="none" stroke="#bcbcbc" stroke-width="0.8" />
<polyline points="605.4,729.0 615.0,728.3" fill="none" stroke="#e4e4e4" stroke-width="0.9" />
<polygon points="509.0,734.0 559.6,758.0 562.6,781.0 558.4,779.8 509.0,759.0" fill="url(#gTrayL)" />
<polyline points="509.2,734.2 559.6,758.2" fill="none" stroke="#8e8e90" stroke-width="0.8" />
<polygon points="532.0,745.9 534.7,747.1 534.7,757.8 532.0,756.6" fill="#0c0c0d" />
<polygon points="555.2,756.0 557.2,757.0 557.2,766.4 555.2,765.6" fill="#0c0c0d" />
<polygon points="559.6,758.0 641.8,743.8 641.8,766.4 638.8,768.5 562.6,781.0" fill="#1e1e1f" />
<polygon points="592.3,753.0 616.2,748.9 616.2,770.7 592.3,774.7" fill="#343436" />
<polyline points="559.8,758.3 578.1,756.1 641.8,744.0" fill="none" stroke="#5e5e60" stroke-width="0.9" />
<polyline points="632.8,741.4 641.8,744.0" fill="none" stroke="#8a8a8c" stroke-width="0.8" />
<rect x="581.0" y="691.7" width="10.1" height="131.0" fill="url(#gPin)" rx="1.5"/>
<ellipse cx="586.1" cy="692.4" rx="5.1" ry="1.8" fill="#454547" />
<rect x="621.5" y="685.2" width="10.1" height="129.8" fill="url(#gPin)" rx="1.5"/>
<ellipse cx="626.6" cy="685.9" rx="5.1" ry="1.8" fill="#454547" />
</g>
<g>
<rect x="686.9" y="641.2" width="10.8" height="126.5" fill="url(#gPin)" rx="1.5"/>
<ellipse cx="692.3" cy="641.9" rx="5.4" ry="1.8" fill="#454547" />
<polygon points="656.5,709.4 665.3,707.3 674.7,707.0 674.7,694.7 678.3,693.5 678.3,664.1 696.5,665.3 713.0,661.2 722.4,658.6 728.3,662.9 728.3,687.0 737.7,685.9 750.6,685.3 751.2,704.1 761.2,703.5 761.2,682.3 767.3,682.3 768.3,715.3 778.9,716.5 787.7,719.0 706.5,733.2" fill="#121213" />
<polygon points="703.6,668.2 727.7,667.6 727.7,724.7 703.6,722.3" fill="#1d1d1f" />
<polygon points="688.3,667.6 703.6,668.2 703.6,691.8 688.3,692.9" fill="#0b0b0c" />
<polygon points="678.3,664.7 687.7,666.5 687.7,693.5 678.3,693.5" fill="#1a1a1c" />
<polygon points="691.4,690.8 704.1,689.4 704.1,722.3 691.4,722.3" fill="#1f1f21" />
<polygon points="715.6,687.0 723.0,686.1 723.0,722.3 715.6,722.3" fill="#232325" />
<polygon points="674.7,695.3 689.4,695.9 689.4,716.5 674.7,717.6" fill="#19191b" />
<polygon points="737.9,686.1 750.6,685.5 751.0,727.0 737.9,727.0" fill="#1c1c1e" />
<polygon points="704.1,707.6 715.3,707.0 715.3,722.3 704.1,722.3" fill="#2a2a2c" />
<polygon points="696.5,665.3 713.0,661.2 728.3,662.9 711.8,668.2" fill="#0a0a0a" stroke="#e8e8e8" stroke-width="1.1"/>
<polyline points="715.3,658.8 722.4,660.2 727.1,659.4" fill="none" stroke="#e0e0e0" stroke-width="0.9" />
<polyline points="687.3,666.6 687.8,693.2" fill="none" stroke="#e6e6e6" stroke-width="1.0" />
<polyline points="727.7,668.2 727.9,722.9" fill="none" stroke="#dcdcdc" stroke-width="1.0" />
<polyline points="703.7,668.5 703.7,690.6" fill="none" stroke="#6a6a6c" stroke-width="0.8" />
<polyline points="691.6,722.3 691.6,690.9 704.1,689.5" fill="none" stroke="#e0e0e0" stroke-width="1.0" />
<polyline points="715.7,712.9 715.7,687.2 723.0,686.2" fill="none" stroke="#d8d8d8" stroke-width="0.9" />
<polyline points="738.3,686.8 738.3,705.9" fill="none" stroke="#77777a" stroke-width="0.8" />
<polyline points="738.1,686.1 743.6,684.7 750.6,685.5" fill="none" stroke="#c8c8c8" stroke-width="0.8" />
<polyline points="674.9,695.0 678.9,693.9 688.9,695.3" fill="none" stroke="#bcbcbc" stroke-width="0.8" />
<polyline points="751.8,704.5 761.2,703.8" fill="none" stroke="#e4e4e4" stroke-width="0.9" />
<polygon points="656.5,709.4 706.5,733.2 709.4,755.9 705.3,754.7 656.5,734.1" fill="url(#gTrayL)" />
<polyline points="656.7,709.6 706.5,733.3" fill="none" stroke="#8e8e90" stroke-width="0.8" />
<polygon points="679.2,721.2 681.9,722.3 681.9,732.9 679.2,731.8" fill="#0c0c0d" />
<polygon points="702.1,731.2 704.1,732.1 704.1,741.4 702.1,740.6" fill="#0c0c0d" />
<polygon points="706.5,733.2 787.7,719.0 787.7,741.4 784.7,743.5 709.4,755.9" fill="#1e1e1f" />
<polygon points="738.9,728.2 762.4,724.1 762.4,745.6 738.9,749.6" fill="#343436" />
<polyline points="706.7,733.4 724.7,731.3 787.7,719.3" fill="none" stroke="#5e5e60" stroke-width="0.9" />
<polyline points="778.9,716.7 787.7,719.3" fill="none" stroke="#8a8a8c" stroke-width="0.8" />
<rect x="727.7" y="667.6" width="10.0" height="129.4" fill="url(#gPin)" rx="1.5"/>
<ellipse cx="732.7" cy="668.3" rx="5.0" ry="1.8" fill="#454547" />
<rect x="767.7" y="661.2" width="10.0" height="128.2" fill="url(#gPin)" rx="1.5"/>
<ellipse cx="772.7" cy="661.9" rx="5.0" ry="1.8" fill="#454547" />
</g>
<g>
<rect x="828.9" y="617.2" width="10.8" height="125.7" fill="url(#gPin)" rx="1.5"/>
<ellipse cx="834.3" cy="617.9" rx="5.4" ry="1.8" fill="#454547" />
<polygon points="798.8,685.0 807.5,682.9 816.9,682.7 816.9,670.4 820.4,669.2 820.4,640.0 838.5,641.1 854.9,637.1 864.2,634.5 870.1,638.8 870.1,662.8 879.4,661.6 892.3,661.0 892.9,679.7 902.8,679.2 902.8,658.1 908.9,658.1 909.8,690.8 920.4,692.0 929.1,694.6 848.5,708.6" fill="#121213" />
<polygon points="845.5,644.1 869.5,643.5 869.5,700.2 845.5,697.9" fill="#1d1d1f" />
<polygon points="830.3,643.5 845.5,644.1 845.5,667.5 830.3,668.6" fill="#0b0b0c" />
<polygon points="820.4,640.6 829.7,642.3 829.7,669.2 820.4,669.2" fill="#1a1a1c" />
<polygon points="833.5,666.5 846.1,665.1 846.1,697.9 833.5,697.9" fill="#1f1f21" />
<polygon points="857.5,662.8 864.8,661.8 864.8,697.9 857.5,697.9" fill="#232325" />
<polygon points="816.9,671.0 831.5,671.6 831.5,692.0 816.9,693.2" fill="#19191b" />
<polygon points="879.7,661.8 892.3,661.3 892.7,702.5 879.7,702.5" fill="#1c1c1e" />
<polygon points="846.1,683.2 857.2,682.7 857.2,697.9 846.1,697.9" fill="#2a2a2c" />
<polygon points="838.5,641.1 854.9,637.1 870.1,638.8 853.7,644.1" fill="#0a0a0a" stroke="#e8e8e8" stroke-width="1.1"/>
<polyline points="857.2,634.7 864.2,636.1 868.9,635.3" fill="none" stroke="#e0e0e0" stroke-width="0.9" />
<polyline points="829.4,642.4 829.9,668.9" fill="none" stroke="#e6e6e6" stroke-width="1.0" />
<polyline points="869.5,644.1 869.7,698.4" fill="none" stroke="#dcdcdc" stroke-width="1.0" />
<polyline points="845.6,644.3 845.6,666.3" fill="none" stroke="#6a6a6c" stroke-width="0.8" />
<polyline points="833.6,697.9 833.6,666.6 846.1,665.2" fill="none" stroke="#e0e0e0" stroke-width="1.0" />
<polyline points="857.6,688.5 857.6,662.9 864.8,662.0" fill="none" stroke="#d8d8d8" stroke-width="0.9" />
<polyline points="880.0,662.5 880.0,681.5" fill="none" stroke="#77777a" stroke-width="0.8" />
<polyline points="879.9,661.8 885.3,660.4 892.3,661.3" fill="none" stroke="#c8c8c8" stroke-width="0.8" />
<polyline points="817.0,670.7 821.0,669.6 830.9,671.0" fill="none" stroke="#bcbcbc" stroke-width="0.8" />
<polyline points="893.5,680.1 902.8,679.4" fill="none" stroke="#e4e4e4" stroke-width="0.9" />
<polygon points="798.8,685.0 848.5,708.6 851.4,731.2 847.3,730.0 798.8,709.6" fill="url(#gTrayL)" />
<polyline points="799.0,685.2 848.5,708.7" fill="none" stroke="#8e8e90" stroke-width="0.8" />
<polygon points="821.3,696.7 824.0,697.9 824.0,708.4 821.3,707.2" fill="#0c0c0d" />
<polygon points="844.1,706.6 846.1,707.6 846.1,716.8 844.1,716.0" fill="#0c0c0d" />
<polygon points="848.5,708.6 929.1,694.6 929.1,716.8 926.2,718.9 851.4,731.2" fill="#1e1e1f" />
<polygon points="880.6,703.7 904.0,699.6 904.0,721.0 880.6,725.0" fill="#343436" />
<polyline points="848.7,708.9 866.6,706.8 929.1,694.8" fill="none" stroke="#5e5e60" stroke-width="0.9" />
<polyline points="920.4,692.3 929.1,694.8" fill="none" stroke="#8a8a8c" stroke-width="0.8" />
<rect x="869.5" y="643.5" width="9.9" height="128.6" fill="url(#gPin)" rx="1.5"/>
<ellipse cx="874.5" cy="644.2" rx="5.0" ry="1.8" fill="#454547" />
<rect x="909.3" y="637.1" width="9.9" height="127.5" fill="url(#gPin)" rx="1.5"/>
<ellipse cx="914.2" cy="637.8" rx="5.0" ry="1.8" fill="#454547" />
</g>
<g>
<rect x="967.5" y="596.4" width="10.7" height="124.8" fill="url(#gPin)" rx="1.5"/>
<ellipse cx="972.8" cy="597.1" rx="5.3" ry="1.8" fill="#454547" />
<polygon points="937.5,663.8 946.2,661.7 955.5,661.4 955.5,649.2 959.0,648.1 959.0,619.0 977.0,620.2 993.2,616.1 1002.5,613.6 1008.3,617.9 1008.3,641.7 1017.6,640.5 1030.4,639.9 1031.0,658.5 1040.8,657.9 1040.8,637.0 1046.9,637.0 1047.8,669.6 1058.3,670.7 1067.0,673.3 986.9,687.2" fill="#121213" />
<polygon points="983.9,623.1 1007.8,622.5 1007.8,678.8 983.9,676.5" fill="#1d1d1f" />
<polygon points="968.9,622.5 983.9,623.1 983.9,646.3 968.9,647.5" fill="#0b0b0c" />
<polygon points="959.0,619.6 968.3,621.4 968.3,648.1 959.0,648.1" fill="#1a1a1c" />
<polygon points="972.0,645.4 984.5,644.0 984.5,676.5 972.0,676.5" fill="#1f1f21" />
<polygon points="995.8,641.7 1003.1,640.8 1003.1,676.5 995.8,676.5" fill="#232325" />
<polygon points="955.5,649.8 970.0,650.4 970.0,670.7 955.5,671.9" fill="#19191b" />
<polygon points="1017.9,640.8 1030.4,640.2 1030.7,681.2 1017.9,681.2" fill="#1c1c1e" />
<polygon points="984.5,662.0 995.6,661.4 995.6,676.5 984.5,676.5" fill="#2a2a2c" />
<polygon points="977.0,620.2 993.2,616.1 1008.3,617.9 992.1,623.1" fill="#0a0a0a" stroke="#e8e8e8" stroke-width="1.1"/>
<polyline points="995.6,613.8 1002.5,615.2 1007.2,614.4" fill="none" stroke="#e0e0e0" stroke-width="0.9" />
<polyline points="967.9,621.5 968.4,647.7" fill="none" stroke="#e6e6e6" stroke-width="1.0" />
<polyline points="1007.8,623.1 1008.0,677.1" fill="none" stroke="#dcdcdc" stroke-width="1.0" />
<polyline points="984.1,623.3 984.1,645.2" fill="none" stroke="#6a6a6c" stroke-width="0.8" />
<polyline points="972.1,676.5 972.1,645.5 984.5,644.1" fill="none" stroke="#e0e0e0" stroke-width="1.0" />
<polyline points="995.9,667.2 995.9,641.8 1003.1,640.9" fill="none" stroke="#d8d8d8" stroke-width="0.9" />
<polyline points="1018.2,641.5 1018.2,660.3" fill="none" stroke="#77777a" stroke-width="0.8" />
<polyline points="1018.1,640.8 1023.4,639.4 1030.4,640.2" fill="none" stroke="#c8c8c8" stroke-width="0.8" />
<polyline points="955.6,649.6 959.6,648.4 969.4,649.8" fill="none" stroke="#bcbcbc" stroke-width="0.8" />
<polyline points="1031.6,658.9 1040.8,658.2" fill="none" stroke="#e4e4e4" stroke-width="0.9" />
<polygon points="937.5,663.8 986.9,687.2 989.8,709.6 985.7,708.5 937.5,688.1" fill="url(#gTrayL)" />
<polyline points="937.7,664.0 986.9,687.3" fill="none" stroke="#8e8e90" stroke-width="0.8" />
<polygon points="959.9,675.4 962.6,676.5 962.6,687.0 959.9,685.8" fill="#0c0c0d" />
<polygon points="982.6,685.2 984.5,686.2 984.5,695.3 982.6,694.5" fill="#0c0c0d" />
<polygon points="986.9,687.2 1067.0,673.3 1067.0,695.3 1064.1,697.4 989.8,709.6" fill="#1e1e1f" />
<polygon points="1018.8,682.3 1042.0,678.3 1042.0,699.5 1018.8,703.5" fill="#343436" />
<polyline points="987.1,687.4 1004.8,685.3 1067.0,673.5" fill="none" stroke="#5e5e60" stroke-width="0.9" />
<polyline points="1058.3,670.9 1067.0,673.5" fill="none" stroke="#8a8a8c" stroke-width="0.8" />
<rect x="1007.8" y="622.5" width="9.9" height="127.7" fill="url(#gPin)" rx="1.5"/>
<ellipse cx="1012.7" cy="623.2" rx="4.9" ry="1.8" fill="#454547" />
<rect x="1047.2" y="616.1" width="9.9" height="126.6" fill="url(#gPin)" rx="1.5"/>
<ellipse cx="1052.2" cy="616.8" rx="4.9" ry="1.8" fill="#454547" />
</g>
<g id="contact-bar">
<polygon points="205.0,618.6 1058.0,491.5 1058.0,497.0 205.0,624.5 213.0,621.5" fill="#e8b595" />
<polyline points="205.0,618.6 1058.0,491.5" fill="none" stroke="#f6dccb" stroke-width="1" />
<polygon points="226.0,668.0 1040.0,546.5 1040.0,551.0 1063.0,550.6 1063.0,567.0 293.5,688.5 293.5,677.5 226.0,687.0" fill="url(#gCopper)" />
<polyline points="293.5,688.3 1063.0,566.8" fill="none" stroke="#fbeee6" stroke-width="1" />
<g>
<polygon points="247.6,622.5 261.0,621.7 261.0,655.5 253.6,662.4 247.6,660.7" fill="#fefaf7" />
<polyline points="261.0,626.0 261.0,655.5 254.5,662.8" fill="none" stroke="#3a2a22" stroke-width="1.0" />
<polygon points="254.5,662.8 262.3,661.7 281.4,659.8 290.0,650.3 293.5,649.4 295.2,653.7 290.9,661.5 274.4,668.5 254.5,669.8" fill="url(#gArm)" />
<polygon points="235.4,635.5 247.1,633.8 247.1,660.2 236.3,660.7" fill="#3d2d27" />
<polyline points="235.6,635.5 247.1,633.8" fill="none" stroke="#8a6a58" stroke-width="0.8" />
<rect x="241.9" y="661.5" width="2.2" height="8.8" fill="#6a4535" rx="1"/>
<ellipse cx="293.9" cy="662.4" rx="3.4" ry="3.4" fill="#ffffff" />
<ellipse cx="262.3" cy="680.6" rx="2.0" ry="2.6" fill="#fbeee6" />
<polygon points="251.0,618.2 261.0,616.6 265.3,622.5 262.7,627.7 254.5,626.4" fill="#f3ddce" stroke="#2a211d" stroke-width="0.8"/>
<polygon points="228.5,606.5 263.2,601.3 266.6,609.5 278.8,607.4 276.2,613.4 265.8,613.9 262.3,619.1 251.0,620.8 239.8,619.1 232.0,616.5" fill="#1a1615" />
<ellipse cx="239.8" cy="612.8" rx="2.2" ry="2.0" fill="#ffffff" />
<polygon points="254.5,608.7 260.1,608.0 260.6,609.7 254.9,610.4" fill="#f4efec" />
<polygon points="242.4,619.1 246.7,614.7 250.2,615.2 245.8,619.9" fill="#f1e4db" />
<polygon points="278.6,607.8 290.0,608.0 292.2,613.2 281.4,613.9 276.9,613.2" fill="#f7e9de" stroke="#4a3a32" stroke-width="0.7" stroke-dasharray="1.5 1.2"/>
<polygon points="290.0,612.6 292.2,612.0 303.9,622.5 302.2,625.8" fill="#2a2624" />
<polygon points="297.0,611.3 301.3,610.4 313.4,615.2 310.8,624.3 305.6,623.4 300.4,621.7" fill="#2a2624" />
<polygon points="298.3,611.7 301.3,610.8 312.6,615.4 309.1,616.9" fill="#55504c" />
<polygon points="299.1,627.7 305.6,626.0 306.9,633.8 305.6,636.4 299.1,636.4" fill="#1f1b1a" />
<polygon points="303.0,636.0 319.9,634.7 320.8,676.3 303.0,671.5" fill="url(#gTab)" />
<polygon points="299.6,636.4 303.0,636.0 303.0,661.5 300.0,660.7" fill="#1c1817" />
<polyline points="319.9,634.7 320.8,676.3" fill="none" stroke="#c99678" stroke-width="0.8" />
<rect x="310.4" y="652.9" width="4.3" height="21.0" fill="#ffffff" rx="2" stroke="#3a2a22" stroke-width="0.9"/>
</g>
<g>
<polygon points="403.6,599.3 416.9,598.4 416.9,631.9 409.6,638.7 403.6,637.0" fill="#fefaf7" />
<polyline points="416.9,602.7 416.9,631.9 410.4,639.2" fill="none" stroke="#3a2a22" stroke-width="1.0" />
<polygon points="410.4,639.2 418.2,638.0 437.0,636.2 445.6,626.7 449.0,625.9 450.8,630.2 446.5,637.9 430.2,644.7 410.4,646.0" fill="url(#gArm)" />
<polygon points="391.6,612.1 403.1,610.4 403.1,636.6 392.4,637.0" fill="#3d2d27" />
<polyline points="391.7,612.1 403.1,610.4" fill="none" stroke="#8a6a58" stroke-width="0.8" />
<rect x="398.0" y="637.9" width="2.1" height="8.8" fill="#6a4535" rx="1"/>
<ellipse cx="449.5" cy="638.7" rx="3.4" ry="3.4" fill="#ffffff" />
<ellipse cx="418.2" cy="656.7" rx="2.0" ry="2.6" fill="#fbeee6" />
<polygon points="407.0,595.0 416.9,593.4 421.2,599.3 418.6,604.4 410.4,603.1" fill="#f3ddce" stroke="#2a211d" stroke-width="0.8"/>
<polygon points="384.7,583.4 419.0,578.3 422.4,586.4 434.5,584.3 431.9,590.3 421.6,590.7 418.2,595.8 407.0,597.6 395.9,595.8 388.1,593.3" fill="#1a1615" />
<ellipse cx="395.9" cy="589.7" rx="2.2" ry="2.0" fill="#ffffff" />
<polygon points="410.4,585.5 416.0,584.9 416.4,586.6 410.9,587.3" fill="#f4efec" />
<polygon points="398.4,595.8 402.7,591.5 406.1,592.0 401.9,596.7" fill="#f1e4db" />
<polygon points="434.3,584.7 445.6,584.9 447.8,590.0 437.0,590.7 432.6,590.0" fill="#f7e9de" stroke="#4a3a32" stroke-width="0.7" stroke-dasharray="1.5 1.2"/>
<polygon points="445.6,589.4 447.8,588.8 459.3,599.3 457.6,602.5" fill="#2a2624" />
<polygon points="452.5,588.1 456.8,587.3 468.8,592.0 466.2,601.0 461.1,600.1 455.9,598.4" fill="#2a2624" />
<polygon points="453.8,588.5 456.8,587.7 467.9,592.2 464.5,593.7" fill="#55504c" />
<polygon points="454.6,604.4 461.1,602.7 462.3,610.4 461.1,613.0 454.6,613.0" fill="#1f1b1a" />
<polygon points="458.5,612.6 475.2,611.3 476.1,652.5 458.5,647.7" fill="url(#gTab)" />
<polygon points="455.0,613.0 458.5,612.6 458.5,637.9 455.5,637.0" fill="#1c1817" />
<polyline points="475.2,611.3 476.1,652.5" fill="none" stroke="#c99678" stroke-width="0.8" />
<rect x="465.8" y="629.3" width="4.3" height="20.8" fill="#ffffff" rx="2" stroke="#3a2a22" stroke-width="0.9"/>
</g>
<g>
<polygon points="556.7,576.2 569.8,575.4 569.8,608.5 562.6,615.3 556.7,613.6" fill="#fefaf7" />
<polyline points="569.8,579.6 569.8,608.5 563.5,615.7" fill="none" stroke="#3a2a22" stroke-width="1.0" />
<polygon points="563.5,615.7 571.1,614.6 589.8,612.7 598.3,603.4 601.7,602.5 603.4,606.8 599.1,614.4 583.0,621.2 563.5,622.5" fill="url(#gArm)" />
<polygon points="544.8,588.9 556.3,587.3 556.3,613.2 545.6,613.6" fill="#3d2d27" />
<polyline points="545.0,588.9 556.3,587.3" fill="none" stroke="#8a6a58" stroke-width="0.8" />
<rect x="551.2" y="614.4" width="2.1" height="8.7" fill="#6a4535" rx="1"/>
<ellipse cx="602.1" cy="615.3" rx="3.3" ry="3.3" fill="#ffffff" />
<ellipse cx="571.1" cy="633.1" rx="2.0" ry="2.5" fill="#fbeee6" />
<polygon points="560.1,572.0 569.8,570.4 574.1,576.2 571.5,581.3 563.5,580.0" fill="#f3ddce" stroke="#2a211d" stroke-width="0.8"/>
<polygon points="538.0,560.5 572.0,555.4 575.4,563.5 587.3,561.3 584.7,567.3 574.5,567.7 571.1,572.8 560.1,574.5 549.0,572.8 541.4,570.3" fill="#1a1615" />
<ellipse cx="549.0" cy="566.7" rx="2.2" ry="2.0" fill="#ffffff" />
<polygon points="563.5,562.6 569.0,561.9 569.4,563.6 563.9,564.3" fill="#f4efec" />
<polygon points="551.6,572.8 555.8,568.6 559.2,569.0 555.0,573.7" fill="#f1e4db" />
<polygon points="587.1,561.8 598.3,561.9 600.4,567.0 589.8,567.7 585.4,567.0" fill="#f7e9de" stroke="#4a3a32" stroke-width="0.7" stroke-dasharray="1.5 1.2"/>
<polygon points="598.3,566.4 600.4,565.9 611.9,576.2 610.2,579.4" fill="#2a2624" />
<polygon points="605.1,565.2 609.3,564.3 621.2,569.0 618.7,577.9 613.6,577.1 608.5,575.4" fill="#2a2624" />
<polygon points="606.4,565.6 609.3,564.7 620.4,569.2 617.0,570.7" fill="#55504c" />
<polygon points="607.2,581.3 613.6,579.6 614.9,587.3 613.6,589.8 607.2,589.8" fill="#1f1b1a" />
<polygon points="611.0,589.4 627.6,588.1 628.4,628.9 611.0,624.2" fill="url(#gTab)" />
<polygon points="607.6,589.8 611.0,589.4 611.0,614.4 608.1,613.6" fill="#1c1817" />
<polyline points="627.6,588.1 628.4,628.9" fill="none" stroke="#c99678" stroke-width="0.8" />
<rect x="618.3" y="605.9" width="4.2" height="20.6" fill="#ffffff" rx="2" stroke="#3a2a22" stroke-width="0.9"/>
</g>
<g>
<polygon points="703.5,553.6 716.5,552.7 716.5,585.5 709.4,592.2 703.5,590.5" fill="#fefaf7" />
<polyline points="716.5,556.9 716.5,585.5 710.2,592.6" fill="none" stroke="#3a2a22" stroke-width="1.0" />
<polygon points="710.2,592.6 717.8,591.5 736.3,589.7 744.7,580.4 748.0,579.6 749.7,583.8 745.5,591.4 729.5,598.1 710.2,599.4" fill="url(#gArm)" />
<polygon points="691.7,566.2 703.1,564.5 703.1,590.1 692.6,590.5" fill="#3d2d27" />
<polyline points="691.9,566.2 703.1,564.5" fill="none" stroke="#8a6a58" stroke-width="0.8" />
<rect x="698.0" y="591.4" width="2.1" height="8.6" fill="#6a4535" rx="1"/>
<ellipse cx="748.5" cy="592.2" rx="3.3" ry="3.3" fill="#ffffff" />
<ellipse cx="717.8" cy="609.9" rx="1.9" ry="2.5" fill="#fbeee6" />
<polygon points="706.9,549.3 716.5,547.8 720.7,553.6 718.2,558.6 710.2,557.3" fill="#f3ddce" stroke="#2a211d" stroke-width="0.8"/>
<polygon points="685.0,538.0 718.6,533.0 722.0,540.9 733.8,538.8 731.2,544.7 721.1,545.1 717.8,550.2 706.9,551.9 695.9,550.2 688.4,547.7" fill="#1a1615" />
<ellipse cx="695.9" cy="544.1" rx="2.1" ry="1.9" fill="#ffffff" />
<polygon points="710.2,540.1 715.7,539.4 716.1,541.1 710.6,541.8" fill="#f4efec" />
<polygon points="698.4,550.2 702.7,546.0 706.0,546.4 701.8,551.0" fill="#f1e4db" />
<polygon points="733.6,539.3 744.7,539.4 746.8,544.5 736.3,545.1 731.9,544.5" fill="#f7e9de" stroke="#4a3a32" stroke-width="0.7" stroke-dasharray="1.5 1.2"/>
<polygon points="744.7,543.9 746.8,543.3 758.1,553.6 756.4,556.7" fill="#2a2624" />
<polygon points="751.4,542.6 755.6,541.8 767.4,546.4 764.9,555.2 759.8,554.4 754.8,552.7" fill="#2a2624" />
<polygon points="752.7,543.0 755.6,542.2 766.5,546.7 763.2,548.1" fill="#55504c" />
<polygon points="753.5,558.6 759.8,556.9 761.1,564.5 759.8,567.0 753.5,567.0" fill="#1f1b1a" />
<polygon points="757.3,566.6 773.7,565.3 774.5,605.7 757.3,601.0" fill="url(#gTab)" />
<polygon points="753.9,567.0 757.3,566.6 757.3,591.4 754.3,590.5" fill="#1c1817" />
<polyline points="773.7,565.3 774.5,605.7" fill="none" stroke="#c99678" stroke-width="0.8" />
<rect x="764.4" y="583.0" width="4.2" height="20.3" fill="#ffffff" rx="2" stroke="#3a2a22" stroke-width="0.9"/>
</g>
<g>
<polygon points="845.8,531.9 858.7,531.1 858.7,563.5 851.6,570.2 845.8,568.5" fill="#fefaf7" />
<polyline points="858.7,535.2 858.7,563.5 852.5,570.6" fill="none" stroke="#3a2a22" stroke-width="1.0" />
<polygon points="852.5,570.6 859.9,569.5 878.2,567.7 886.6,558.5 889.9,557.7 891.6,561.8 887.4,569.3 871.6,576.0 852.5,577.2" fill="url(#gArm)" />
<polygon points="834.2,544.4 845.4,542.7 845.4,568.1 835.0,568.5" fill="#3d2d27" />
<polyline points="834.3,544.4 845.4,542.7" fill="none" stroke="#8a6a58" stroke-width="0.8" />
<rect x="840.4" y="569.3" width="2.1" height="8.5" fill="#6a4535" rx="1"/>
<ellipse cx="890.3" cy="570.2" rx="3.3" ry="3.3" fill="#ffffff" />
<ellipse cx="859.9" cy="587.6" rx="1.9" ry="2.5" fill="#fbeee6" />
<polygon points="849.1,527.7 858.7,526.2 862.9,531.9 860.4,536.9 852.5,535.6" fill="#f3ddce" stroke="#2a211d" stroke-width="0.8"/>
<polygon points="827.5,516.5 860.8,511.5 864.1,519.4 875.7,517.3 873.3,523.2 863.3,523.6 859.9,528.6 849.1,530.2 838.3,528.6 830.8,526.1" fill="#1a1615" />
<ellipse cx="838.3" cy="522.6" rx="2.1" ry="1.9" fill="#ffffff" />
<polygon points="852.5,518.6 857.9,517.9 858.3,519.6 852.9,520.2" fill="#f4efec" />
<polygon points="840.8,528.6 845.0,524.4 848.3,524.8 844.1,529.4" fill="#f1e4db" />
<polygon points="875.6,517.7 886.6,517.9 888.6,522.9 878.2,523.6 873.9,522.9" fill="#f7e9de" stroke="#4a3a32" stroke-width="0.7" stroke-dasharray="1.5 1.2"/>
<polygon points="886.6,522.3 888.6,521.7 899.9,531.9 898.2,535.1" fill="#2a2624" />
<polygon points="893.2,521.1 897.4,520.2 909.0,524.8 906.5,533.6 901.5,532.7 896.5,531.1" fill="#2a2624" />
<polygon points="894.5,521.5 897.4,520.7 908.2,525.1 904.9,526.5" fill="#55504c" />
<polygon points="895.3,536.9 901.5,535.2 902.8,542.7 901.5,545.2 895.3,545.2" fill="#1f1b1a" />
<polygon points="899.0,544.8 915.3,543.5 916.1,583.5 899.0,578.9" fill="url(#gTab)" />
<polygon points="895.7,545.2 899.0,544.8 899.0,569.3 896.1,568.5" fill="#1c1817" />
<polyline points="915.3,543.5 916.1,583.5" fill="none" stroke="#c99678" stroke-width="0.8" />
<rect x="906.1" y="561.0" width="4.2" height="20.1" fill="#ffffff" rx="2" stroke="#3a2a22" stroke-width="0.9"/>
</g>
<g>
<polygon points="984.6,511.7 997.4,510.9 997.4,543.0 990.4,549.6 984.6,548.0" fill="#fefaf7" />
<polyline points="997.4,515.0 997.4,543.0 991.2,550.0" fill="none" stroke="#3a2a22" stroke-width="1.0" />
<polygon points="991.2,550.0 998.6,548.9 1016.7,547.1 1024.9,538.1 1028.2,537.2 1029.9,541.4 1025.8,548.8 1010.1,555.4 991.2,556.6" fill="url(#gArm)" />
<polygon points="973.1,524.1 984.2,522.4 984.2,547.5 973.9,548.0" fill="#3d2d27" />
<polyline points="973.3,524.1 984.2,522.4" fill="none" stroke="#8a6a58" stroke-width="0.8" />
<rect x="979.3" y="548.8" width="2.1" height="8.4" fill="#6a4535" rx="1"/>
<ellipse cx="1028.7" cy="549.6" rx="3.2" ry="3.2" fill="#ffffff" />
<ellipse cx="998.6" cy="566.9" rx="1.9" ry="2.5" fill="#fbeee6" />
<polygon points="987.9,507.6 997.4,506.1 1001.5,511.7 999.0,516.7 991.2,515.4" fill="#f3ddce" stroke="#2a211d" stroke-width="0.8"/>
<polygon points="966.5,496.5 999.4,491.6 1002.7,499.4 1014.2,497.3 1011.8,503.1 1001.9,503.5 998.6,508.4 987.9,510.1 977.2,508.4 969.8,506.0" fill="#123a1a" />
<ellipse cx="977.2" cy="502.5" rx="2.1" ry="1.9" fill="#ffffff" />
<polygon points="991.2,498.6 996.5,497.9 997.0,499.5 991.6,500.2" fill="#f4efec" />
<polygon points="979.7,508.4 983.8,504.3 987.1,504.7 983.0,509.3" fill="#f1e4db" />
<polygon points="1014.1,497.7 1024.9,497.9 1027.0,502.8 1016.7,503.5 1012.4,502.8" fill="#f7e9de" stroke="#4a3a32" stroke-width="0.7" stroke-dasharray="1.5 1.2"/>
<polygon points="1024.9,502.3 1027.0,501.7 1038.1,511.7 1036.5,514.9" fill="#2a2624" />
<polygon points="1031.5,501.0 1035.7,500.2 1047.2,504.7 1044.7,513.4 1039.8,512.6 1034.8,510.9" fill="#2a2624" />
<polygon points="1032.8,501.4 1035.7,500.6 1046.4,505.0 1043.1,506.4" fill="#55504c" />
<polygon points="1033.6,516.7 1039.8,515.0 1041.0,522.4 1039.8,524.9 1033.6,524.9" fill="#1f1b1a" />
<polygon points="1037.3,524.5 1053.4,523.3 1054.2,562.8 1037.3,558.2" fill="url(#gTab)" />
<polygon points="1034.0,524.9 1037.3,524.5 1037.3,548.8 1034.4,548.0" fill="#1c1817" />
<polyline points="1053.4,523.3 1054.2,562.8" fill="none" stroke="#c99678" stroke-width="0.8" />
<rect x="1044.3" y="540.5" width="4.1" height="19.9" fill="#ffffff" rx="2" stroke="#3a2a22" stroke-width="0.9"/>
</g>
</g>
<g id="front-housing">
<polygon points="147.7,486.0 224.0,517.0 224.0,561.7 153.3,568.3" fill="#0c0c0d" />
<polygon points="150.6,521.0 224.0,518.0 224.0,529.0 151.0,534.0" fill="#252527" />
<polygon points="151.5,544.0 224.0,538.0 224.0,547.0 152.0,553.0" fill="#1e1e20" />
<polyline points="147.7,486.0 153.3,568.3" fill="none" stroke="#8a8a8c" stroke-width="1" />
<path d="M151 521.5 a5 5.6 0 1 1 0.6 11.2" fill="none" stroke="#d4d4d6" stroke-width="2"/>
<polygon points="224.0,517.0 1320.5,366.5 1328.8,430.0 226.0,593.0" fill="url(#gFront)" />
<polygon points="1320.5,366.5 1332.5,362.5 1332.5,426.0 1328.8,430.0" fill="#1e1e1f" />
<polygon points="224.5,517.0 227.6,518.3 229.3,593.4 226.2,592.8" fill="#a2a2a4" />
<path d="M223.6 550 a4.6 5.4 0 1 0 0.6 10.8" fill="none" stroke="#d0d0d2" stroke-width="1.9"/>
<polygon points="147.7,486.0 1241.0,337.0 1332.5,362.5 1320.5,366.5 224.0,517.0" fill="url(#gTop)" />
<polyline points="224.0,516.2 1320.5,365.7" fill="none" stroke="#d0d0d2" stroke-width="1.6" opacity="0.8"/>
<polyline points="147.7,486.0 224.0,517.0" fill="none" stroke="#9a9a9c" stroke-width="1" opacity="0.8"/>
<polygon points="197.0,486.0 280.0,474.0 330.0,493.3 246.7,505.0" fill="#0b0b0c" />
<polyline points="197.0,486.0 280.0,474.0 330.0,493.3" fill="none" stroke="#2a2a2c" stroke-width="1" />
<polyline points="197.0,486.0 246.7,505.0 330.0,493.3" fill="none" stroke="#d4d4d6" stroke-width="1.2" opacity="0.7"/>
<polygon points="356.7,464.0 436.7,453.3 486.7,471.7 406.7,482.7" fill="#0b0b0c" />
<polyline points="356.7,464.0 436.7,453.3 486.7,471.7" fill="none" stroke="#2a2a2c" stroke-width="1" />
<polyline points="356.7,464.0 406.7,482.7 486.7,471.7" fill="none" stroke="#d4d4d6" stroke-width="1.2" opacity="0.7"/>
<polygon points="508.3,443.3 585.5,432.8 635.2,449.0 558.0,460.5" fill="#0b0b0c" />
<polyline points="508.3,443.3 585.5,432.8 635.2,449.0" fill="none" stroke="#2a2a2c" stroke-width="1" />
<polyline points="508.3,443.3 558.0,460.5 635.2,449.0" fill="none" stroke="#d4d4d6" stroke-width="1.2" opacity="0.7"/>
<polygon points="657.2,423.3 728.7,413.0 783.7,429.5 714.0,440.5" fill="#0b0b0c" />
<polyline points="657.2,423.3 728.7,413.0 783.7,429.5" fill="none" stroke="#2a2a2c" stroke-width="1" />
<polyline points="657.2,423.3 714.0,440.5 783.7,429.5" fill="none" stroke="#d4d4d6" stroke-width="1.2" opacity="0.7"/>
<polygon points="803.9,403.8 875.4,394.0 926.7,409.3 855.2,420.3" fill="#0b0b0c" />
<polyline points="803.9,403.8 875.4,394.0 926.7,409.3" fill="none" stroke="#2a2a2c" stroke-width="1" />
<polyline points="803.9,403.8 855.2,420.3 926.7,409.3" fill="none" stroke="#d4d4d6" stroke-width="1.2" opacity="0.7"/>
<polygon points="943.2,383.7 1014.0,374.0 1067.9,389.2 998.2,400.2" fill="#0b0b0c" />
<polyline points="943.2,383.7 1014.0,374.0 1067.9,389.2" fill="none" stroke="#2a2a2c" stroke-width="1" />
<polyline points="943.2,383.7 998.2,400.2 1067.9,389.2" fill="none" stroke="#d4d4d6" stroke-width="1.2" opacity="0.7"/>
<polygon points="1112.0,359.0 1178.0,349.0 1243.0,368.0 1171.0,378.0" fill="#0b0b0c" />
<polyline points="1112.0,359.0 1178.0,349.0 1243.0,368.0" fill="none" stroke="#2a2a2c" stroke-width="1" />
<polyline points="1112.0,359.0 1171.0,378.0 1243.0,368.0" fill="none" stroke="#d4d4d6" stroke-width="1.2" opacity="0.7"/>
<ellipse cx="1070.0" cy="378.0" rx="6.0" ry="2.3" fill="#101011" />
<text transform="translate(1066,369.5) rotate(14.5) skewX(-48)" font-size="7" font-weight="700" textLength="58" lengthAdjust="spacingAndGlyphs" style="fill:#dcebdc" opacity="0.7">PROTECTED</text>
<path d="M1059 364.5 l5 0.6 l2.6 2.2 l-3 1.6 l-5.2 -2.2z" fill="#dfeedf"/>
<g fill="none" stroke="#e6e6e8" stroke-width="1" transform="translate(1248,353.5) rotate(13)"><path d="M-34 -2 C-20 -9 20 -9 36 0" /><path d="M-24 1 C-10 -5 12 -5 24 0 C12 5 -8 5 -20 2" stroke-width="1.3"/><path d="M-8 0 L10 1 M-2 -3 L-2 4 M6 -2 L6 4" stroke-width="1.1"/><path d="M-30 5 L26 8" stroke-width="1.4" stroke-dasharray="2.5 1.5"/></g>
</g>
<g>
<polygon points="201.1,385.2 215.5,387.9 215.5,441.4 202.6,445.3" fill="#b67816" />
<polygon points="201.1,385.2 208.9,386.8 208.9,444.7 202.6,445.3" fill="#7a4a0a" />
<polygon points="209.3,388.1 215.3,389.4 215.3,423.8 209.3,422.1" fill="#ffffff" />
<polygon points="198.2,364.2 244.5,381.3 244.5,460.7 219.1,451.3 215.5,449.7 215.5,387.9 201.1,385.2 202.6,445.3 200.6,445.6" fill="url(#gCream)" />
<polygon points="219.1,434.0 222.4,434.8 222.4,452.2 219.5,451.4" fill="#6e4409" />
<polygon points="227.9,410.0 231.8,410.6 232.5,455.4 229.2,454.5" fill="#6e4409" />
<polygon points="240.1,434.2 244.5,434.8 244.5,437.0 241.7,436.7 241.7,459.8 240.1,459.3" fill="#c99a3c" />
<polygon points="244.5,381.3 325.5,370.3 325.5,451.9 273.7,458.5 244.5,460.7" fill="url(#gGold)" />
<polygon points="244.5,381.3 270.4,378.0 270.4,458.3 244.5,460.7" fill="#c29218" opacity="0.55"/>
<polyline points="244.7,381.3 244.7,434.2" fill="none" stroke="#9a6c10" stroke-width="1.2" />
<polygon points="270.2,379.3 273.9,378.9 273.9,458.3 271.7,458.5" fill="#714809" />
<polygon points="277.6,377.4 295.2,376.0 295.7,436.4 279.2,438.9" fill="#68400a" />
<polygon points="284.2,381.3 291.6,380.5 292.7,396.7 290.5,405.6 290.9,434.4 283.6,437.2 283.1,405.6 284.9,396.7" fill="#dcae38" />
<polyline points="284.5,381.5 285.3,396.7 283.4,405.6 283.8,436.9" fill="none" stroke="#f0cc6a" stroke-width="0.8" />
<polygon points="188.8,356.5 273.7,344.4 334.3,364.2 334.3,370.5 327.2,371.4 327.2,370.1 246.1,380.9 245.0,381.3 240.1,381.3 239.5,380.4 198.2,364.5 189.4,361.2" fill="#d2a636" />
<polygon points="240.1,376.3 334.3,364.8 334.3,370.5 327.2,371.4 327.2,370.1 246.1,380.9 240.1,381.3" fill="#b98c22" />
<polygon points="194.9,355.9 273.7,344.9 328.3,362.6 244.5,373.6" fill="url(#gPlate)" />
<polyline points="193.2,356.6 244.5,374.3 328.8,363.2" fill="none" stroke="#3e3018" stroke-width="1.5" />
<polyline points="194.9,355.9 273.7,344.9 328.3,362.6" fill="none" stroke="#a08850" stroke-width="0.8" />
<polygon points="227.9,352.6 241.7,349.9 257.2,349.3 262.7,352.4 259.9,355.4 250.5,357.3 239.5,356.6 231.8,354.8" fill="#432b0c" />
<polygon points="235.1,355.1 259.4,352.9 259.9,355.4 250.5,357.3 239.5,356.6" fill="#8d6a2c" />
<polygon points="234.0,363.1 247.2,360.9 261.0,365.9 247.2,368.6" fill="#432b0c" />
<polygon points="243.4,365.9 251.6,364.5 259.4,366.3 247.2,368.4" fill="#b08a3a" />
<polygon points="278.7,356.5 292.4,354.6 312.3,360.9 298.5,363.1" fill="#432b0c" />
<polygon points="290.8,359.5 298.0,358.4 310.1,361.2 298.8,362.9" fill="#c0994a" />
</g>
<g>
<polygon points="358.9,365.5 373.3,368.2 373.3,420.4 360.4,424.2" fill="#b67816" />
<polygon points="358.9,365.5 366.7,367.1 366.7,423.7 360.4,424.2" fill="#7a4a0a" />
<polygon points="367.1,368.4 373.1,369.6 373.1,403.2 367.1,401.6" fill="#ffffff" />
<polygon points="355.9,345.0 402.5,361.7 402.5,439.3 377.0,430.1 373.3,428.5 373.3,368.2 358.9,365.5 360.4,424.2 358.4,424.5" fill="url(#gCream)" />
<polygon points="377.0,413.2 380.3,414.0 380.3,431.0 377.3,430.2" fill="#6e4409" />
<polygon points="385.9,389.7 389.8,390.4 390.4,434.1 387.1,433.3" fill="#6e4409" />
<polygon points="398.1,413.4 402.5,414.0 402.5,416.1 399.7,415.8 399.7,438.4 398.1,437.9" fill="#c99a3c" />
<polygon points="402.5,361.7 483.2,351.0 483.2,430.7 431.6,437.1 402.5,439.3" fill="url(#gGold)" />
<polygon points="402.5,361.7 428.3,358.5 428.3,436.9 402.5,439.3" fill="#c29218" opacity="0.55"/>
<polyline points="402.7,361.7 402.7,413.4" fill="none" stroke="#9a6c10" stroke-width="1.2" />
<polygon points="428.1,359.8 431.8,359.4 431.8,436.9 429.6,437.1" fill="#714809" />
<polygon points="435.5,358.0 453.0,356.6 453.6,415.6 437.1,418.0" fill="#68400a" />
<polygon points="442.1,361.7 449.4,361.0 450.5,376.8 448.3,385.4 448.8,413.7 441.5,416.3 441.0,385.4 442.8,376.8" fill="#dcae38" />
<polyline points="442.4,362.0 443.2,376.8 441.3,385.4 441.7,416.0" fill="none" stroke="#f0cc6a" stroke-width="0.8" />
<polygon points="346.5,337.5 431.6,325.7 492.0,345.0 492.0,351.2 484.9,352.0 484.9,350.7 404.2,361.3 403.1,361.7 398.1,361.7 397.5,360.9 355.9,345.4 347.1,342.1" fill="#d2a636" />
<polygon points="398.1,356.9 492.0,345.6 492.0,351.2 484.9,352.0 484.9,350.7 404.2,361.3 398.1,361.7" fill="#b98c22" />
<polygon points="352.6,337.0 431.6,326.2 486.0,343.4 402.5,354.2" fill="url(#gPlate)" />
<polyline points="350.9,337.6 402.5,354.8 486.5,344.1" fill="none" stroke="#3e3018" stroke-width="1.5" />
<polyline points="352.6,337.0 431.6,326.2 486.0,343.4" fill="none" stroke="#a08850" stroke-width="0.8" />
<polygon points="385.9,333.7 399.7,331.0 415.1,330.5 420.6,333.5 417.9,336.4 408.6,338.3 397.5,337.6 389.8,335.9" fill="#432b0c" />
<polygon points="393.1,336.1 417.3,333.9 417.9,336.4 408.6,338.3 397.5,337.6" fill="#8d6a2c" />
<polygon points="392.0,344.0 405.3,341.8 419.0,346.7 405.3,349.3" fill="#432b0c" />
<polygon points="401.4,346.7 409.6,345.4 417.3,347.1 405.3,349.1" fill="#b08a3a" />
<polygon points="436.6,337.5 450.3,335.7 470.1,341.8 456.3,344.0" fill="#432b0c" />
<polygon points="448.6,340.4 455.8,339.3 467.9,342.1 456.7,343.7" fill="#c0994a" />
</g>
<g>
<polygon points="514.5,346.1 528.9,348.7 528.9,399.5 515.9,403.2" fill="#b67816" />
<polygon points="514.5,346.1 522.3,347.6 522.3,402.7 515.9,403.2" fill="#7a4a0a" />
<polygon points="522.7,348.9 528.7,350.0 528.7,382.8 522.7,381.2" fill="#ffffff" />
<polygon points="511.5,326.1 558.2,342.4 558.2,417.9 532.6,409.0 528.9,407.4 528.9,348.7 514.5,346.1 515.9,403.2 513.9,403.5" fill="url(#gCream)" />
<polygon points="532.6,392.5 536.0,393.2 536.0,409.8 532.9,409.1" fill="#6e4409" />
<polygon points="541.5,369.7 545.4,370.3 546.1,412.9 542.7,412.0" fill="#6e4409" />
<polygon points="553.8,392.7 558.2,393.2 558.2,395.3 555.4,395.0 555.4,417.0 553.8,416.5" fill="#c99a3c" />
<polygon points="558.2,342.4 635.5,331.9 635.5,409.5 586.1,415.8 558.2,417.9" fill="url(#gGold)" />
<polygon points="558.2,342.4 582.9,339.2 582.9,415.6 558.2,417.9" fill="#c29218" opacity="0.55"/>
<polyline points="558.4,342.4 558.4,392.7" fill="none" stroke="#9a6c10" stroke-width="1.2" />
<polygon points="582.7,340.5 586.3,340.1 586.3,415.6 584.2,415.8" fill="#714809" />
<polygon points="589.8,338.7 606.6,337.4 607.1,394.8 591.3,397.1" fill="#68400a" />
<polygon points="596.1,342.4 603.1,341.7 604.2,357.1 602.1,365.5 602.5,392.9 595.5,395.6 595.0,365.5 596.8,357.1" fill="#dcae38" />
<polyline points="596.4,342.6 597.1,357.1 595.3,365.5 595.7,395.2" fill="none" stroke="#f0cc6a" stroke-width="0.8" />
<polygon points="502.0,318.8 586.1,307.3 643.9,326.1 643.9,332.1 637.1,333.0 637.1,331.7 559.8,342.0 558.7,342.4 553.8,342.4 553.2,341.6 511.5,326.5 502.6,323.3" fill="#d2a636" />
<polygon points="553.8,337.7 643.9,326.7 643.9,332.1 637.1,333.0 637.1,331.7 559.8,342.0 553.8,342.4" fill="#b98c22" />
<polygon points="508.1,318.3 586.1,307.8 638.1,324.6 558.2,335.1" fill="url(#gPlate)" />
<polyline points="506.5,318.9 558.2,335.7 638.6,325.2" fill="none" stroke="#3e3018" stroke-width="1.5" />
<polyline points="508.1,318.3 586.1,307.8 638.1,324.6" fill="none" stroke="#a08850" stroke-width="0.8" />
<polygon points="541.5,315.1 555.4,312.5 570.3,312.0 575.6,314.9 572.9,317.8 564.0,319.5 553.2,318.9 545.4,317.2" fill="#432b0c" />
<polygon points="548.8,317.4 572.4,315.3 572.9,317.8 564.0,319.5 553.2,318.9" fill="#8d6a2c" />
<polygon points="547.6,325.1 560.8,323.0 574.0,327.7 560.8,330.3" fill="#432b0c" />
<polygon points="557.1,327.7 565.1,326.5 572.4,328.1 560.8,330.1" fill="#b08a3a" />
<polygon points="590.8,318.8 603.9,317.0 622.9,323.0 609.7,325.1" fill="#432b0c" />
<polygon points="602.4,321.6 609.2,320.6 620.8,323.3 610.0,324.9" fill="#c0994a" />
</g>
<g>
<polygon points="664.3,327.4 679.1,330.1 679.1,380.9 665.8,384.5" fill="#b67816" />
<polygon points="664.3,327.4 672.3,329.0 672.3,384.0 665.8,384.5" fill="#7a4a0a" />
<polygon points="672.7,330.3 678.9,331.4 678.9,364.1 672.7,362.5" fill="#ffffff" />
<polygon points="661.3,307.5 709.0,323.8 709.0,399.2 682.9,390.3 679.1,388.7 679.1,330.1 664.3,327.4 665.8,384.5 663.8,384.8" fill="url(#gCream)" />
<polygon points="682.9,373.8 686.3,374.6 686.3,391.1 683.2,390.4" fill="#6e4409" />
<polygon points="692.0,351.0 695.9,351.6 696.6,394.2 693.2,393.3" fill="#6e4409" />
<polygon points="704.5,374.0 709.0,374.6 709.0,376.7 706.2,376.3 706.2,398.3 704.5,397.8" fill="#c99a3c" />
<polygon points="709.0,323.8 784.3,313.3 784.3,390.8 736.2,397.1 709.0,399.2" fill="url(#gGold)" />
<polygon points="709.0,323.8 733.1,320.6 733.1,396.9 709.0,399.2" fill="#c29218" opacity="0.55"/>
<polyline points="709.2,323.8 709.2,374.0" fill="none" stroke="#9a6c10" stroke-width="1.2" />
<polygon points="732.9,321.9 736.4,321.5 736.4,396.9 734.3,397.1" fill="#714809" />
<polygon points="739.7,320.1 756.1,318.7 756.6,376.1 741.3,378.4" fill="#68400a" />
<polygon points="745.9,323.8 752.7,323.0 753.8,338.4 751.7,346.8 752.1,374.3 745.4,376.9 744.9,346.8 746.6,338.4" fill="#dcae38" />
<polyline points="746.2,324.0 746.9,338.4 745.2,346.8 745.6,376.6" fill="none" stroke="#f0cc6a" stroke-width="0.8" />
<polygon points="651.6,300.2 736.2,288.7 792.5,307.5 792.5,313.5 785.8,314.3 785.8,313.1 710.6,323.3 709.5,323.8 704.5,323.8 703.9,322.9 661.3,307.8 652.2,304.7" fill="#d2a636" />
<polygon points="704.5,319.1 792.5,308.1 792.5,313.5 785.8,314.3 785.8,313.1 710.6,323.3 704.5,323.8" fill="#b98c22" />
<polygon points="657.9,299.7 736.2,289.2 786.8,306.0 709.0,316.4" fill="url(#gPlate)" />
<polyline points="656.1,300.3 709.0,317.1 787.4,306.6" fill="none" stroke="#3e3018" stroke-width="1.5" />
<polyline points="657.9,299.7 736.2,289.2 786.8,306.0" fill="none" stroke="#a08850" stroke-width="0.8" />
<polygon points="692.0,296.5 706.2,293.9 720.8,293.4 725.9,296.3 723.4,299.2 714.7,300.9 703.9,300.3 695.9,298.6" fill="#432b0c" />
<polygon points="699.4,298.8 722.8,296.7 723.4,299.2 714.7,300.9 703.9,300.3" fill="#8d6a2c" />
<polygon points="698.2,306.5 711.6,304.4 724.4,309.1 711.6,311.7" fill="#432b0c" />
<polygon points="707.9,309.1 715.7,307.8 722.8,309.5 711.6,311.5" fill="#b08a3a" />
<polygon points="740.8,300.2 753.6,298.4 772.0,304.4 759.2,306.5" fill="#432b0c" />
<polygon points="752.0,303.0 758.7,302.0 769.9,304.7 759.5,306.3" fill="#c0994a" />
</g>
<g>
<polygon points="809.3,308.5 824.4,311.1 824.4,361.1 810.8,364.7" fill="#b67816" />
<polygon points="809.3,308.5 817.4,310.0 817.4,364.2 810.8,364.7" fill="#7a4a0a" />
<polygon points="817.9,311.3 824.2,312.4 824.2,344.6 817.9,343.0" fill="#ffffff" />
<polygon points="806.1,288.9 855.1,304.9 855.1,379.1 828.3,370.4 824.4,368.8 824.4,311.1 809.3,308.5 810.8,364.7 808.7,365.0" fill="url(#gCream)" />
<polygon points="828.3,354.2 831.8,354.9 831.8,371.2 828.6,370.5" fill="#6e4409" />
<polygon points="837.6,331.7 841.7,332.3 842.4,374.2 838.9,373.3" fill="#6e4409" />
<polygon points="850.4,354.4 855.1,354.9 855.1,357.0 852.1,356.6 852.1,378.3 850.4,377.8" fill="#c99a3c" />
<polygon points="855.1,304.9 928.2,294.6 928.2,370.9 881.4,377.1 855.1,379.1" fill="url(#gGold)" />
<polygon points="855.1,304.9 878.4,301.8 878.4,376.8 855.1,379.1" fill="#c29218" opacity="0.55"/>
<polyline points="855.3,304.9 855.3,354.4" fill="none" stroke="#9a6c10" stroke-width="1.2" />
<polygon points="878.2,303.0 881.6,302.6 881.6,376.8 879.6,377.1" fill="#714809" />
<polygon points="884.9,301.3 900.8,299.9 901.3,356.4 886.4,358.7" fill="#68400a" />
<polygon points="890.9,304.9 897.5,304.2 898.5,319.3 896.5,327.6 896.9,354.6 890.4,357.2 889.9,327.6 891.6,319.3" fill="#dcae38" />
<polyline points="891.2,305.1 891.9,319.3 890.2,327.6 890.6,356.9" fill="none" stroke="#f0cc6a" stroke-width="0.8" />
<polygon points="796.2,281.7 881.4,270.4 936.1,288.9 936.1,294.8 929.6,295.6 929.6,294.4 856.5,304.5 855.6,304.9 850.4,304.9 849.8,304.1 806.1,289.2 796.8,286.1" fill="#d2a636" />
<polygon points="850.4,300.3 936.1,289.4 936.1,294.8 929.6,295.6 929.6,294.4 856.5,304.5 850.4,304.9" fill="#b98c22" />
<polygon points="802.7,281.2 881.4,270.9 930.6,287.4 855.1,297.7" fill="url(#gPlate)" />
<polyline points="800.9,281.8 855.1,298.3 931.1,288.0" fill="none" stroke="#3e3018" stroke-width="1.5" />
<polyline points="802.7,281.2 881.4,270.9 930.6,287.4" fill="none" stroke="#a08850" stroke-width="0.8" />
<polygon points="837.6,278.1 852.1,275.5 866.5,275.0 871.5,277.9 869.0,280.7 860.5,282.4 849.8,281.8 841.7,280.2" fill="#432b0c" />
<polygon points="845.2,280.4 868.5,278.3 869.0,280.7 860.5,282.4 849.8,281.8" fill="#8d6a2c" />
<polygon points="844.0,287.9 857.5,285.8 870.0,290.5 857.5,293.0" fill="#432b0c" />
<polygon points="853.9,290.5 861.5,289.2 868.5,290.9 857.5,292.8" fill="#b08a3a" />
<polygon points="885.9,281.7 898.3,279.9 916.2,285.8 903.8,287.9" fill="#432b0c" />
<polygon points="896.8,284.5 903.3,283.5 914.2,286.1 904.1,287.7" fill="#c0994a" />
</g>
<g>
<polygon points="950.8,290.9 966.3,293.4 966.3,342.2 952.4,345.7" fill="#b67816" />
<polygon points="950.8,290.9 959.1,292.4 959.1,345.2 952.4,345.7" fill="#7a4a0a" />
<polygon points="959.6,293.6 966.0,294.7 966.0,326.1 959.6,324.6" fill="#ffffff" />
<polygon points="947.6,271.7 997.5,287.3 997.5,359.8 970.2,351.3 966.3,349.8 966.3,293.4 950.8,290.9 952.4,345.7 950.2,346.0" fill="url(#gCream)" />
<polygon points="970.2,335.5 973.7,336.2 973.7,352.1 970.5,351.4" fill="#6e4409" />
<polygon points="979.7,313.5 983.8,314.1 984.5,355.0 981.0,354.2" fill="#6e4409" />
<polygon points="992.7,335.7 997.5,336.2 997.5,338.2 994.5,337.9 994.5,359.0 992.7,358.5" fill="#c99a3c" />
<polygon points="997.5,287.3 1068.5,277.3 1068.5,351.8 1023.1,357.8 997.5,359.8" fill="url(#gGold)" />
<polygon points="997.5,287.3 1020.2,284.3 1020.2,357.6 997.5,359.8" fill="#c29218" opacity="0.55"/>
<polyline points="997.7,287.3 997.7,335.7" fill="none" stroke="#9a6c10" stroke-width="1.2" />
<polygon points="1020.0,285.5 1023.3,285.1 1023.3,357.6 1021.3,357.8" fill="#714809" />
<polygon points="1026.5,283.8 1041.9,282.5 1042.4,337.7 1027.9,339.9" fill="#68400a" />
<polygon points="1032.3,287.3 1038.7,286.6 1039.7,301.4 1037.8,309.5 1038.1,335.9 1031.8,338.4 1031.3,309.5 1032.9,301.4" fill="#dcae38" />
<polyline points="1032.5,287.6 1033.2,301.4 1031.6,309.5 1032.0,338.1" fill="none" stroke="#f0cc6a" stroke-width="0.8" />
<polygon points="937.5,264.7 1023.1,253.6 1076.2,271.7 1076.2,277.5 1069.9,278.3 1069.9,277.1 998.9,286.9 998.0,287.3 992.7,287.3 992.1,286.5 947.6,272.0 938.1,269.0" fill="#d2a636" />
<polygon points="992.7,282.8 1076.2,272.2 1076.2,277.5 1069.9,278.3 1069.9,277.1 998.9,286.9 992.7,287.3" fill="#b98c22" />
<polygon points="944.0,264.2 1023.1,254.1 1070.9,270.2 997.5,280.3" fill="url(#gPlate)" />
<polyline points="942.3,264.8 997.5,280.9 1071.4,270.8" fill="none" stroke="#3e3018" stroke-width="1.5" />
<polyline points="944.0,264.2 1023.1,254.1 1070.9,270.2" fill="none" stroke="#a08850" stroke-width="0.8" />
<polygon points="979.7,261.2 994.5,258.7 1008.6,258.2 1013.4,261.0 1011.0,263.7 1002.8,265.4 992.1,264.8 983.8,263.2" fill="#432b0c" />
<polygon points="987.4,263.4 1010.5,261.4 1011.0,263.7 1002.8,265.4 992.1,264.8" fill="#8d6a2c" />
<polygon points="986.2,270.7 999.9,268.7 1012.0,273.3 999.9,275.8" fill="#432b0c" />
<polygon points="996.3,273.3 1003.8,272.0 1010.5,273.7 999.9,275.6" fill="#b08a3a" />
<polygon points="1027.4,264.7 1039.5,263.0 1056.9,268.7 1044.8,270.7" fill="#432b0c" />
<polygon points="1038.1,267.4 1044.3,266.4 1055.0,269.0 1045.1,270.5" fill="#c0994a" />
</g>
<g id="bracket">
<polygon points="997.5,587.5 997.5,607.0 1030.0,602.0 1030.0,597.5" fill="#1c1c1d" />
<polygon points="1081.2,614.7 1177.4,601.7 1177.4,622.5 1081.2,638.1" fill="url(#gBrFront)" />
<polygon points="998.0,587.9 1093.4,572.3 1177.4,601.7 1081.2,614.7" fill="url(#gBracket)" />
<polyline points="998.0,587.9 1081.2,614.7 1177.4,601.7" fill="none" stroke="#c8c8ca" stroke-width="0.9" />
<ellipse cx="1067.4" cy="597.4" rx="13.5" ry="4.8" fill="#ffffff" />
<path d="M1053.9 597.4 a13.5 4.8 0 0 1 27 0 a13.5 3 0 0 0 -27 0z" fill="#1a1a1b"/>
</g>
<g id="switch">
<polygon points="1141.8,738.2 1219.4,736.5 1219.4,764.7 1203.5,777.9 1187.6,770.9 1178.8,771.8 1164.7,780.6 1150.6,774.4 1141.8,764.7" fill="#19191a" />
<polygon points="1182.3,743.5 1201.8,741.8 1201.8,777.0 1187.6,770.9 1182.3,764.7" fill="#2b2b2d" />
<polygon points="1201.8,741.8 1219.4,738.2 1219.4,764.7 1203.5,777.9 1201.8,777.0" fill="#222224" />
<polygon points="1169.6,759.4 1176.2,759.4 1176.2,768.2 1169.6,768.2" fill="#070707" />
<rect x="1210.1" y="751.5" width="2.8" height="10.0" fill="#ececec" rx="1.4"/>
<rect x="1147.9" y="751.5" width="2.2" height="9.0" fill="#d0d0d0" rx="1.1"/>
<polygon points="1150.6,740.0 1160.3,741.8 1160.3,771.8 1150.6,770.0" fill="#0c0c0d" />
<polygon points="1106.5,651.8 1167.3,675.6 1168.2,746.2 1141.8,738.2 1105.6,722.3" fill="url(#gSwL)"/>
<polygon points="1168.2,699.4 1235.3,690.6 1235.6,734.7 1219.4,737.3 1168.2,746.2" fill="#2d2d2f" />
<polyline points="1168.2,699.4 1168.2,746.2" fill="none" stroke="#4a4a4c" stroke-width="0.8" />
<polygon points="1166.5,674.7 1242.3,662.3 1243.2,681.8 1235.3,683.5 1235.3,691.5 1168.2,700.3" fill="#0c0c0d" />
<polygon points="1101.2,652.6 1110.9,656.7 1111.8,672.9 1106.5,677.3 1100.8,668.0" fill="#050505" />
<polygon points="1171.8,681.8 1176.2,681.8 1177.1,695.9 1172.6,696.8" fill="#c4c4c6" />
<polygon points="1192.9,679.1 1221.2,675.6 1221.2,688.8 1192.9,691.5" fill="#1c1c1d" />
<polygon points="1226.5,672.9 1242.3,670.3 1243.2,681.8 1227.3,684.4" fill="#101011" />
<polygon points="1101.2,646.5 1115.3,644.3 1184.1,627.1 1242.3,658.8 1242.3,664.1 1166.5,676.5 1101.2,652.6" fill="#3a3a3c" />
<polygon points="1101.2,646.5 1184.1,627.9 1242.3,658.8 1166.5,670.3" fill="#6c6c6e" />
<polygon points="1110.9,646.8 1183.2,630.6 1234.4,657.9 1167.3,667.6" fill="#19191a" />
<polyline points="1101.2,646.6 1166.5,670.5 1242.3,659.0" fill="none" stroke="#9a9a9c" stroke-width="0.9" />
<polygon points="1121.5,648.6 1126.8,636.8 1184.1,626.7 1201.8,642.9 1150.6,652.6 1145.3,654.4" fill="#a20f18" />
<polygon points="1126.8,636.8 1184.1,626.7 1192.9,635.0 1132.9,642.9" fill="#c8141e" />
<polygon points="1121.5,648.6 1126.8,636.8 1132.9,642.9 1145.3,654.4" fill="#6e0a10" />
<polyline points="1132.9,642.9 1192.9,635.0" fill="none" stroke="#e03a42" stroke-width="0.8" />
<polygon points="1145.3,653.9 1201.8,642.9 1226.8,656.2 1164.7,666.2" fill="url(#gRocker)" />
<polygon points="1164.7,666.2 1226.8,656.2 1227.2,657.6 1165.4,668.0" fill="#8e8e90" />
<text transform="translate(1192.9,665.9) rotate(-10)" font-size="5" style="fill:#cfcfcf">OFF</text>
</g>
<g id="surge">
<polygon points="1147.5,812.5 1176.2,798.8 1212.5,812.5 1212.5,815.5 1180.0,823.0 1170.0,818.8 1170.0,825.0 1150.0,828.8 1143.8,820.0" fill="#4a4a4c" />
<polygon points="1177.5,813.0 1198.8,809.5 1201.2,811.5 1180.0,815.5" fill="#202021" />
<polygon points="1147.5,820.5 1163.8,817.5 1165.0,819.5 1149.5,822.5" fill="#202021" />
<polygon points="1003.8,841.2 1046.2,858.8 1162.5,835.0 1162.5,838.0 1046.2,862.5 1003.8,844.5" fill="#141415" />
<polygon points="1003.8,841.2 1060.0,822.5 1162.5,835.0 1046.2,858.8" fill="url(#gBoard)" />
<polygon points="992.5,833.8 1012.5,830.0 1017.5,835.0 1005.0,841.2 1003.8,845.0 993.8,842.5" fill="#2c2c2e" />
<ellipse cx="1013.8" cy="838.0" rx="3.0" ry="1.6" fill="#050505" />
<ellipse cx="1032.0" cy="845.5" rx="3.0" ry="1.6" fill="#050505" />
<ellipse cx="1037.5" cy="852.0" rx="3.0" ry="1.6" fill="#050505" />
<rect x="1057.8" y="820.0" width="2.6" height="8.0" fill="#2452b0" rx="1.3"/>
<rect x="1068.8" y="823.0" width="2.6" height="7.0" fill="#1d4398" rx="1.3"/>
<ellipse cx="1072.2" cy="786.4" rx="30.4" ry="38.2" fill="#2a56b0" transform="rotate(4 1076.8 787.0)"/>
<ellipse cx="1073.2" cy="786.5" rx="30.4" ry="38.2" fill="#6a9bee" transform="rotate(4 1076.8 787.0)"/>
<ellipse cx="1075.6" cy="786.8" rx="30.4" ry="38.2" fill="#3a6cc8" transform="rotate(4 1076.8 787.0)"/>
<ellipse cx="1076.8" cy="787.0" rx="30.4" ry="38.2" fill="url(#gDiscBack)" transform="rotate(4 1076.8 787.0)"/>
<rect x="1071.4" y="825.0" width="2.6" height="8.0" fill="#2452b0" rx="1.3"/>
<rect x="1082.4" y="828.0" width="2.6" height="7.0" fill="#1d4398" rx="1.3"/>
<ellipse cx="1085.8" cy="791.4" rx="30.4" ry="38.2" fill="#2a56b0" transform="rotate(4 1090.4 792.0)"/>
<ellipse cx="1086.8" cy="791.5" rx="30.4" ry="38.2" fill="#6a9bee" transform="rotate(4 1090.4 792.0)"/>
<ellipse cx="1089.2" cy="791.8" rx="30.4" ry="38.2" fill="#3a6cc8" transform="rotate(4 1090.4 792.0)"/>
<ellipse cx="1090.4" cy="792.0" rx="30.4" ry="38.2" fill="url(#gDiscBack)" transform="rotate(4 1090.4 792.0)"/>
<rect x="1085.0" y="830.0" width="2.6" height="8.0" fill="#2452b0" rx="1.3"/>
<rect x="1096.0" y="833.0" width="2.6" height="7.0" fill="#1d4398" rx="1.3"/>
<ellipse cx="1099.4" cy="796.4" rx="30.4" ry="38.2" fill="#2a56b0" transform="rotate(4 1104.0 797.0)"/>
<ellipse cx="1100.4" cy="796.5" rx="30.4" ry="38.2" fill="#6a9bee" transform="rotate(4 1104.0 797.0)"/>
<ellipse cx="1102.8" cy="796.8" rx="30.4" ry="38.2" fill="#3a6cc8" transform="rotate(4 1104.0 797.0)"/>
<ellipse cx="1104.0" cy="797.0" rx="30.4" ry="38.2" fill="url(#gDiscBack)" transform="rotate(4 1104.0 797.0)"/>
<rect x="1098.6" y="835.0" width="2.6" height="8.0" fill="#2452b0" rx="1.3"/>
<rect x="1109.6" y="838.0" width="2.6" height="7.0" fill="#1d4398" rx="1.3"/>
<ellipse cx="1113.0" cy="801.4" rx="30.4" ry="38.2" fill="#2a56b0" transform="rotate(4 1117.6 802.0)"/>
<ellipse cx="1114.0" cy="801.5" rx="30.4" ry="38.2" fill="#6a9bee" transform="rotate(4 1117.6 802.0)"/>
<ellipse cx="1116.4" cy="801.8" rx="30.4" ry="38.2" fill="#3a6cc8" transform="rotate(4 1117.6 802.0)"/>
<ellipse cx="1117.6" cy="802.0" rx="30.4" ry="38.2" fill="url(#gDisc)" transform="rotate(4 1117.6 802.0)"/>
<line x1="1115.0" y1="790.5" x2="1133.6" y2="834.5" stroke="#1d4398" stroke-width="6.4" stroke-linecap="round"/>
<line x1="1114.0" y1="790.5" x2="1132.6" y2="834.5" stroke="#3c74d6" stroke-width="4.4" stroke-linecap="round"/>
</g>
<g id="left-plate">
<g transform="translate(8.0,779.4) rotate(-6.04)">
<path d="M0 -4.3 L42.3 -4.3 L51.3 0 L42.3 4.3 L0 4.3 z" fill="#141415"/>
<path d="M2 -2.7 L42.3 -2.7" stroke="#5a5a5c" stroke-width="1.3" stroke-dasharray="1.6 1.6" fill="none"/>
<ellipse cx="0" cy="0" rx="5.3" ry="9.4" fill="#0e0e0f" stroke="#8a8a8c" stroke-width="0.9"/>
<ellipse cx="-1" cy="0" rx="2.9" ry="5.6" fill="#2a2a2c"/>
</g>
<g transform="translate(10.6,844.7) rotate(-8.91)">
<path d="M0 -4.3 L42.0 -4.3 L51.0 0 L42.0 4.3 L0 4.3 z" fill="#141415"/>
<path d="M2 -2.7 L42.0 -2.7" stroke="#5a5a5c" stroke-width="1.3" stroke-dasharray="1.6 1.6" fill="none"/>
<ellipse cx="0" cy="0" rx="5.3" ry="9.4" fill="#0e0e0f" stroke="#8a8a8c" stroke-width="0.9"/>
<ellipse cx="-1" cy="0" rx="2.9" ry="5.6" fill="#2a2a2c"/>
</g>
<polygon points="43.2,878.2 86.5,873.8 166.8,911.8 164.1,916.2 114.7,924.1 43.2,883.5" fill="#1e1e1f" />
<polygon points="43.2,878.2 86.5,873.8 165.0,910.9 114.7,920.6" fill="#2a2a2c" />
<ellipse cx="123.5" cy="908.2" rx="12.0" ry="3.2" fill="#ffffff" transform="rotate(12 123.5 908.2)"/>
<ellipse cx="116.5" cy="902.6" rx="5.5" ry="2.6" fill="#ffffff" />
<ellipse cx="69.7" cy="883.5" rx="5.0" ry="2.4" fill="#d8d8d8" transform="rotate(20 69.7 883.5)"/>
<polygon points="81.5,727.4 162.0,763.5 165.0,765.6 167.1,911.4 164.1,910.3 86.5,873.8" fill="#1a1a1b" />
<polygon points="81.5,727.4 162.0,763.5 164.1,910.3 86.5,873.8" fill="url(#gEndPlate)" />
<polyline points="81.5,727.4 162.0,763.5" fill="none" stroke="#5a5a5c" stroke-width="0.9" />
<ellipse cx="86.5" cy="767.9" rx="2.6" ry="4.6" fill="#0c0c0d" />
<ellipse cx="155.3" cy="804.1" rx="2.6" ry="4.6" fill="#0c0c0d" />
<ellipse cx="88.2" cy="831.5" rx="2.6" ry="4.6" fill="#0c0c0d" />
<ellipse cx="156.2" cy="865.9" rx="2.6" ry="4.6" fill="#0c0c0d" />
<g transform="translate(76.0,815.6) rotate(-8.75)">
<path d="M0 -4.3 L43.6 -4.3 L52.6 0 L43.6 4.3 L0 4.3 z" fill="#141415"/>
<path d="M2 -2.7 L43.6 -2.7" stroke="#5a5a5c" stroke-width="1.3" stroke-dasharray="1.6 1.6" fill="none"/>
<ellipse cx="0" cy="0" rx="5.3" ry="9.4" fill="#0e0e0f" stroke="#8a8a8c" stroke-width="0.9"/>
<ellipse cx="-1" cy="0" rx="2.9" ry="5.6" fill="#2a2a2c"/>
</g>
<g transform="translate(77.6,882.6) rotate(-9.75)">
<path d="M0 -4.3 L43.0 -4.3 L52.0 0 L43.0 4.3 L0 4.3 z" fill="#141415"/>
<path d="M2 -2.7 L43.0 -2.7" stroke="#5a5a5c" stroke-width="1.3" stroke-dasharray="1.6 1.6" fill="none"/>
<ellipse cx="0" cy="0" rx="5.3" ry="9.4" fill="#0e0e0f" stroke="#8a8a8c" stroke-width="0.9"/>
<ellipse cx="-1" cy="0" rx="2.9" ry="5.6" fill="#2a2a2c"/>
</g>
</g>
<g id="right-plate">
<g transform="translate(1332.6,565.0) rotate(-9.46)">
<path d="M0 0 L8 -3.5 L38.3 -3.5 L38.3 3.5 L8 3.5 z" fill="#101011"/>
<ellipse cx="38.3" cy="0" rx="4.6" ry="8" fill="#161617" stroke="#b5b5b7" stroke-width="1"/>
<ellipse cx="36.7" cy="0" rx="3" ry="6.5" fill="#0a0a0b"/>
</g>
<g transform="translate(1345.0,620.0) rotate(-8.59)">
<path d="M0 0 L8 -3.5 L24.8 -3.5 L24.8 3.5 L8 3.5 z" fill="#101011"/>
<ellipse cx="24.8" cy="0" rx="4.6" ry="8" fill="#161617" stroke="#b5b5b7" stroke-width="1"/>
<ellipse cx="23.2" cy="0" rx="3" ry="6.5" fill="#0a0a0b"/>
</g>
<g transform="translate(1411.6,650.5) rotate(-9.75)">
<path d="M0 0 L8 -3.5 L39.6 -3.5 L39.6 3.5 L8 3.5 z" fill="#101011"/>
<ellipse cx="39.6" cy="0" rx="4.6" ry="8" fill="#161617" stroke="#b5b5b7" stroke-width="1"/>
<ellipse cx="38.0" cy="0" rx="3" ry="6.5" fill="#0a0a0b"/>
</g>
<polygon points="1345.2,682.9 1374.9,695.5 1374.9,700.0 1345.2,705.4" fill="#1b1b1c" />
<ellipse cx="1348.8" cy="693.7" rx="4.0" ry="2.0" fill="#ffffff" />
<polygon points="1250.7,542.5 1345.2,572.2 1346.6,573.3 1346.6,705.0 1341.6,706.3 1248.9,672.1" fill="#161617" />
<polygon points="1250.7,542.5 1345.2,572.2 1343.0,705.0 1248.9,672.1" fill="#303032" />
<polyline points="1250.7,542.5 1345.2,572.2" fill="none" stroke="#5c5c5e" stroke-width="0.8" />
<path d="M1289.0 592.4 C1277.2 599.2 1276.4 632.5 1287.2 644.6 L1305.6 650.5 C1316.4 642.4 1316.4 610.0 1305.6 599.2 z" fill="#ffffff"/>
<ellipse cx="1256.6" cy="578.5" rx="2.6" ry="3.6" fill="#ffffff" />
<ellipse cx="1337.6" cy="605.5" rx="2.6" ry="3.6" fill="#ffffff" />
<ellipse cx="1254.3" cy="635.2" rx="2.6" ry="3.6" fill="#ffffff" />
<ellipse cx="1336.2" cy="662.2" rx="2.6" ry="3.6" fill="#ffffff" />
<polygon points="1455.8,579.9 1500.0,572.0 1500.0,601.0 1454.5,609.8" fill="#0b0b0c" />
<polyline points="1457.5,584.7 1500.0,579.0" fill="none" stroke="#2e2e30" stroke-width="3" opacity="0.7"/>
<path d="M1398.6 576.0 C1406.4 569.9 1415.1 566.5 1430.7 565.6 C1439.3 566.5 1446.3 573.4 1448.4 579.5 L1455.4 598.5 C1454.1 615.9 1448.0 626.3 1435.9 632.3 C1422.0 634.5 1411.6 633.2 1400.3 631.5 z" fill="url(#gGland)"/>
<polygon points="1418.5,598.5 1439.3,596.8 1439.3,629.7 1422.0,633.6" fill="#1c1c1d" opacity="0.8"/>
<ellipse cx="1400.3" cy="603.7" rx="15.2" ry="27.7" fill="url(#gFace)" transform="rotate(-7 1400.3 603.7)"/>
<polygon points="1413.3,593.8 1418.5,589.0 1448.0,579.9 1455.8,579.9 1459.3,587.3 1457.5,595.1 1451.5,597.5 1418.5,598.2" fill="#111112" stroke="#dcdcde" stroke-width="1.4"/>
<polyline points="1448.9,580.3 1451.5,597.2" fill="none" stroke="#bdbdbf" stroke-width="1" />
</g>
<g id="led">
<rect x="1073.6" y="250.0" width="1.5" height="55.0" fill="#dfe1ea" />
<rect x="1062.0" y="229.0" width="20.0" height="20.5" fill="#1b1b1d" rx="2.2"/>
<rect x="1064.5" y="231.0" width="3.0" height="17.0" fill="#3a3a3c" rx="1.5" opacity="0.7"/>
<ellipse cx="1072.5" cy="228.6" rx="11.8" ry="2.7" fill="#0c0c0d" />
<ellipse cx="1072.5" cy="227.9" rx="10.2" ry="1.7" fill="#e9f7e9" />
<path d="M1064.5 228 Q1071.5 219.5 1081 228 Q1072.5 230.5 1064.5 228z" fill="#22d232"/>
</g>
<g id="rivet">
<rect x="1223.8" y="953.6" width="7.2" height="32.6" fill="#ffffff" stroke="#151515" stroke-width="1"/>
<rect x="1223.8" y="953.6" width="3.2" height="32.6" fill="#111112" />
<path d="M1218.4 986.6 q2 -1.4 4.5 -0.6 l9 0 q2.4 -0.8 4.2 0.6 q-3 2.6 -8.6 2.4 q-6 0.2 -9.1 -2.4z" fill="#141415"/>
</g>
<g id="leaders" fill="none">
<rect x="164.1" y="56.0" width="1.7" height="430.0" fill="url(#gLineUp)" />
<rect x="622.6" y="122.0" width="1.7" height="145.8" fill="url(#gLineUp2)" />
<polyline points="239.0,347.5 239.0,316.0 985.0,222.5 985.0,252.5" fill="none" stroke="#2b7fc9" stroke-width="1.6" />
<rect x="399.1" y="295.8" width="1.7" height="34.2" fill="#2b7fc9" />
<rect x="550.6" y="276.8" width="1.7" height="30.2" fill="#2b7fc9" />
<rect x="696.6" y="258.5" width="1.7" height="31.5" fill="#2b7fc9" />
<rect x="842.6" y="240.3" width="1.7" height="26.7" fill="#2b7fc9" />
<rect x="1070.7" y="33.0" width="1.7" height="194.0" fill="url(#gLineUp)" />
<rect x="1170.7" y="160.0" width="1.7" height="492.0" fill="url(#gLineUp)" />
<rect x="294.3" y="816.0" width="1.7" height="509.0" fill="url(#gLineDown)" />
<rect x="542.1" y="645.0" width="1.7" height="647.0" fill="url(#gLineDown)" />
<rect x="929.2" y="970.0" width="1.7" height="390.0" fill="url(#gLineDown3)" />
<rect x="1047.7" y="840.0" width="1.7" height="415.0" fill="url(#gLineDown)" />
<rect x="1226.4" y="989.0" width="1.3" height="99.0" fill="url(#gLineDown)" />
</g>
<text transform="translate(178.0,90.0) rotate(-10.04)" font-size="23.0" textLength="309.7" lengthAdjust="spacingAndGlyphs" stroke="#1d1d1f" stroke-width="0.3">Aluminum alloy front housing</text>
<text transform="translate(628.5,161.0) rotate(-9.81)" font-size="23.0" textLength="123.3" lengthAdjust="spacingAndGlyphs" stroke="#1d1d1f" stroke-width="0.3">6 AC-Outlet</text>
<text transform="translate(1082.0,69.0) rotate(-10.16)" font-size="23.0" textLength="311.9" lengthAdjust="spacingAndGlyphs" stroke="#1d1d1f" stroke-width="0.3">Surge protector status indicator</text>
<text transform="translate(1186.0,198.5) rotate(-10.25)" font-size="23.0" textLength="143.3" lengthAdjust="spacingAndGlyphs" stroke="#1d1d1f" stroke-width="0.3">Master switch</text>
<text transform="translate(1185.0,227.5) rotate(-9.72)" font-size="23.0" textLength="219.1" lengthAdjust="spacingAndGlyphs" stroke="#1d1d1f" stroke-width="0.3">[with circuit breaker]</text>
<text transform="translate(304.8,1300.0) rotate(-13.18)" font-size="23.0" textLength="149.1" lengthAdjust="spacingAndGlyphs" stroke="#1d1d1f" stroke-width="0.3">AC-Outlet base</text>
<text transform="translate(555.0,1249.5) rotate(-13.38)" font-size="23.0" textLength="276.5" lengthAdjust="spacingAndGlyphs" stroke="#1d1d1f" stroke-width="0.3">Integrated phosphor bronze</text>
<text transform="translate(556.0,1279.0) rotate(-12.76)" font-size="23.0" textLength="108.7" lengthAdjust="spacingAndGlyphs" stroke="#1d1d1f" stroke-width="0.3">contact bar</text>
<text transform="translate(943.0,1357.5) rotate(-13.31)" font-size="23.0" textLength="286.7" lengthAdjust="spacingAndGlyphs" stroke="#1d1d1f" stroke-width="0.3">Aluminum alloy back housing</text>
<text transform="translate(1058.0,1198.0) rotate(-12.99)" font-size="23.0" textLength="293.5" lengthAdjust="spacingAndGlyphs" stroke="#1d1d1f" stroke-width="0.3">2100-Joules surge protector</text>
<text transform="translate(1058.0,1225.0) rotate(-12.00)" font-size="23.0" textLength="129.8" lengthAdjust="spacingAndGlyphs" stroke="#1d1d1f" stroke-width="0.3">circuit board</text>
<text transform="translate(1238.0,1064.0) rotate(-12.41)" font-size="23.0" textLength="204.8" lengthAdjust="spacingAndGlyphs" stroke="#1d1d1f" stroke-width="0.3">Casing ground rivets</text>
</svg></body></html>
